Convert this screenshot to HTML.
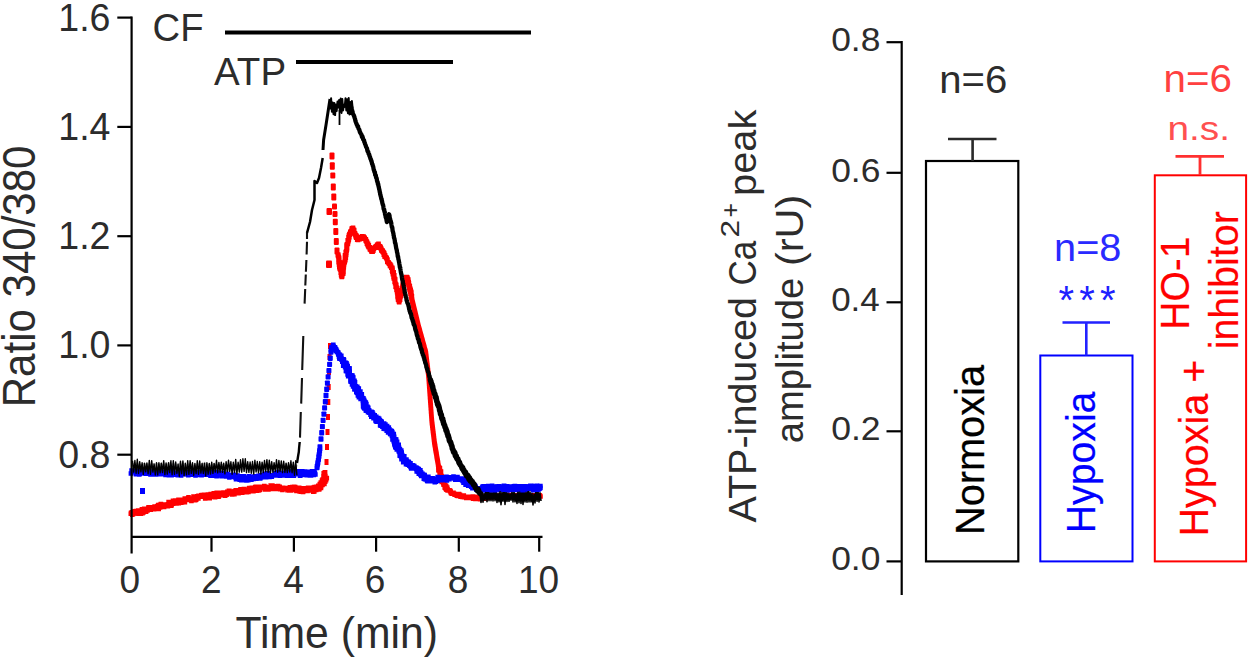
<!DOCTYPE html>
<html><head><meta charset="utf-8"><title>Figure</title>
<style>
html,body{margin:0;padding:0;background:#fff;}
body{width:1250px;height:660px;overflow:hidden;font-family:"Liberation Sans",sans-serif;}
svg{display:block;font-family:"Liberation Sans",sans-serif;}
</style></head><body>
<svg width="1250" height="660" viewBox="0 0 1250 660">
<rect width="1250" height="660" fill="#fff"/>
<path d="M128.5 511.5h4.6v4.6h-4.6zM128.8 510.6h4.6v4.6h-4.6zM130.0 512.5h4.6v4.6h-4.6zM129.8 509.9h4.6v4.6h-4.6zM131.0 511.7h4.6v4.6h-4.6zM131.3 510.8h4.6v4.6h-4.6zM131.5 509.3h4.6v4.6h-4.6zM132.6 511.1h4.6v4.6h-4.6zM132.6 508.9h4.6v4.6h-4.6zM133.6 510.4h4.6v4.6h-4.6zM133.7 508.7h4.6v4.6h-4.6zM134.3 508.7h4.6v4.6h-4.6zM135.2 509.9h4.6v4.6h-4.6zM136.2 511.5h4.6v4.6h-4.6zM135.9 508.3h4.6v4.6h-4.6zM136.6 508.6h4.6v4.6h-4.6zM137.6 510.2h4.6v4.6h-4.6zM138.5 511.4h4.6v4.6h-4.6zM138.6 509.6h4.6v4.6h-4.6zM139.0 508.7h4.6v4.6h-4.6zM140.2 511.0h4.6v4.6h-4.6zM139.6 506.9h4.6v4.6h-4.6zM141.1 510.2h4.6v4.6h-4.6zM141.0 507.7h4.6v4.6h-4.6zM141.3 506.9h4.6v4.6h-4.6zM141.9 506.6h4.6v4.6h-4.6zM142.6 507.3h4.6v4.6h-4.6zM143.8 509.3h4.6v4.6h-4.6zM143.5 506.4h4.6v4.6h-4.6zM144.6 508.0h4.6v4.6h-4.6zM145.2 508.1h4.6v4.6h-4.6zM145.4 506.8h4.6v4.6h-4.6zM146.1 507.4h4.6v4.6h-4.6zM146.1 505.2h4.6v4.6h-4.6zM146.6 505.0h4.6v4.6h-4.6zM147.4 505.4h4.6v4.6h-4.6zM148.4 507.3h4.6v4.6h-4.6zM148.7 506.1h4.6v4.6h-4.6zM149.1 505.5h4.6v4.6h-4.6zM150.0 506.5h4.6v4.6h-4.6zM150.4 505.8h4.6v4.6h-4.6zM150.8 505.0h4.6v4.6h-4.6zM151.8 507.0h4.6v4.6h-4.6zM152.3 506.4h4.6v4.6h-4.6zM152.3 504.3h4.6v4.6h-4.6zM153.2 505.6h4.6v4.6h-4.6zM153.7 505.2h4.6v4.6h-4.6zM154.7 506.6h4.6v4.6h-4.6zM155.0 505.8h4.6v4.6h-4.6zM155.1 503.8h4.6v4.6h-4.6zM156.4 506.6h4.6v4.6h-4.6zM156.0 502.8h4.6v4.6h-4.6zM156.9 503.9h4.6v4.6h-4.6zM157.8 505.2h4.6v4.6h-4.6zM157.7 502.5h4.6v4.6h-4.6zM158.6 503.8h4.6v4.6h-4.6zM158.6 501.7h4.6v4.6h-4.6zM159.9 504.3h4.6v4.6h-4.6zM160.5 504.6h4.6v4.6h-4.6zM160.9 503.6h4.6v4.6h-4.6zM161.8 504.7h4.6v4.6h-4.6zM161.7 502.2h4.6v4.6h-4.6zM162.6 503.7h4.6v4.6h-4.6zM163.1 503.1h4.6v4.6h-4.6zM163.6 502.9h4.6v4.6h-4.6zM164.0 502.2h4.6v4.6h-4.6zM165.0 503.7h4.6v4.6h-4.6zM165.6 504.0h4.6v4.6h-4.6zM165.7 501.9h4.6v4.6h-4.6zM166.4 502.6h4.6v4.6h-4.6zM166.3 499.8h4.6v4.6h-4.6zM167.6 502.4h4.6v4.6h-4.6zM168.1 502.1h4.6v4.6h-4.6zM169.0 503.4h4.6v4.6h-4.6zM169.3 502.5h4.6v4.6h-4.6zM169.3 500.1h4.6v4.6h-4.6zM170.0 500.4h4.6v4.6h-4.6zM170.8 501.5h4.6v4.6h-4.6zM170.7 498.6h4.6v4.6h-4.6zM171.7 500.3h4.6v4.6h-4.6zM171.9 498.9h4.6v4.6h-4.6zM172.4 498.6h4.6v4.6h-4.6zM172.9 498.2h4.6v4.6h-4.6zM174.2 501.1h4.6v4.6h-4.6zM174.1 498.2h4.6v4.6h-4.6zM174.8 498.6h4.6v4.6h-4.6zM175.5 499.0h4.6v4.6h-4.6zM176.5 500.9h4.6v4.6h-4.6zM176.2 497.4h4.6v4.6h-4.6zM177.2 498.9h4.6v4.6h-4.6zM177.8 499.2h4.6v4.6h-4.6zM178.7 500.4h4.6v4.6h-4.6zM179.2 500.0h4.6v4.6h-4.6zM179.8 500.1h4.6v4.6h-4.6zM179.7 497.4h4.6v4.6h-4.6zM180.4 497.9h4.6v4.6h-4.6zM180.9 497.5h4.6v4.6h-4.6zM182.0 499.6h4.6v4.6h-4.6zM182.6 499.8h4.6v4.6h-4.6zM182.5 496.2h4.6v4.6h-4.6zM183.0 496.2h4.6v4.6h-4.6zM183.6 496.4h4.6v4.6h-4.6zM184.2 496.3h4.6v4.6h-4.6zM184.9 497.3h4.6v4.6h-4.6zM185.5 497.6h4.6v4.6h-4.6zM185.8 496.1h4.6v4.6h-4.6zM186.2 494.9h4.6v4.6h-4.6zM187.1 496.6h4.6v4.6h-4.6zM187.6 496.3h4.6v4.6h-4.6zM188.3 497.1h4.6v4.6h-4.6zM189.1 498.7h4.6v4.6h-4.6zM189.5 497.5h4.6v4.6h-4.6zM189.9 496.6h4.6v4.6h-4.6zM190.5 497.0h4.6v4.6h-4.6zM191.1 497.1h4.6v4.6h-4.6zM191.2 494.3h4.6v4.6h-4.6zM192.4 497.9h4.6v4.6h-4.6zM192.8 497.3h4.6v4.6h-4.6zM193.5 497.6h4.6v4.6h-4.6zM194.0 497.2h4.6v4.6h-4.6zM194.2 495.4h4.6v4.6h-4.6zM194.8 495.3h4.6v4.6h-4.6zM195.1 493.9h4.6v4.6h-4.6zM196.1 496.1h4.6v4.6h-4.6zM196.2 493.6h4.6v4.6h-4.6zM196.8 493.5h4.6v4.6h-4.6zM197.4 494.0h4.6v4.6h-4.6zM197.9 493.7h4.6v4.6h-4.6zM198.6 494.4h4.6v4.6h-4.6zM199.0 493.1h4.6v4.6h-4.6zM199.5 492.8h4.6v4.6h-4.6zM200.1 493.3h4.6v4.6h-4.6zM200.7 493.0h4.6v4.6h-4.6zM201.4 494.1h4.6v4.6h-4.6zM201.7 492.5h4.6v4.6h-4.6zM202.9 496.1h4.6v4.6h-4.6zM203.2 494.9h4.6v4.6h-4.6zM203.5 492.8h4.6v4.6h-4.6zM204.1 493.1h4.6v4.6h-4.6zM204.7 493.5h4.6v4.6h-4.6zM205.3 493.4h4.6v4.6h-4.6zM205.6 492.3h4.6v4.6h-4.6zM206.7 495.4h4.6v4.6h-4.6zM207.4 495.9h4.6v4.6h-4.6zM207.5 493.5h4.6v4.6h-4.6zM208.1 493.5h4.6v4.6h-4.6zM208.4 491.7h4.6v4.6h-4.6zM208.9 491.7h4.6v4.6h-4.6zM209.7 492.6h4.6v4.6h-4.6zM210.2 492.2h4.6v4.6h-4.6zM211.1 494.6h4.6v4.6h-4.6zM211.2 491.6h4.6v4.6h-4.6zM211.6 490.9h4.6v4.6h-4.6zM212.8 494.8h4.6v4.6h-4.6zM213.1 492.9h4.6v4.6h-4.6zM213.4 491.2h4.6v4.6h-4.6zM214.2 492.8h4.6v4.6h-4.6zM214.4 490.5h4.6v4.6h-4.6zM215.3 492.5h4.6v4.6h-4.6zM216.2 494.4h4.6v4.6h-4.6zM216.6 493.8h4.6v4.6h-4.6zM217.1 493.0h4.6v4.6h-4.6zM217.3 491.0h4.6v4.6h-4.6zM218.0 491.4h4.6v4.6h-4.6zM218.4 490.4h4.6v4.6h-4.6zM219.3 493.0h4.6v4.6h-4.6zM219.7 491.8h4.6v4.6h-4.6zM220.4 492.8h4.6v4.6h-4.6zM220.7 490.8h4.6v4.6h-4.6zM221.2 490.2h4.6v4.6h-4.6zM222.1 492.7h4.6v4.6h-4.6zM222.8 493.4h4.6v4.6h-4.6zM223.2 492.7h4.6v4.6h-4.6zM223.8 492.4h4.6v4.6h-4.6zM224.3 492.4h4.6v4.6h-4.6zM224.8 492.0h4.6v4.6h-4.6zM225.0 489.6h4.6v4.6h-4.6zM225.8 490.8h4.6v4.6h-4.6zM226.2 490.0h4.6v4.6h-4.6zM226.6 488.5h4.6v4.6h-4.6zM227.1 488.4h4.6v4.6h-4.6zM227.8 489.4h4.6v4.6h-4.6zM228.4 489.3h4.6v4.6h-4.6zM229.2 491.1h4.6v4.6h-4.6zM229.9 492.1h4.6v4.6h-4.6zM230.1 489.8h4.6v4.6h-4.6zM231.0 491.9h4.6v4.6h-4.6zM231.6 492.0h4.6v4.6h-4.6zM232.1 491.8h4.6v4.6h-4.6zM232.3 489.1h4.6v4.6h-4.6zM232.8 488.4h4.6v4.6h-4.6zM233.3 488.4h4.6v4.6h-4.6zM233.8 488.1h4.6v4.6h-4.6zM234.4 488.1h4.6v4.6h-4.6zM235.2 489.8h4.6v4.6h-4.6zM236.0 490.9h4.6v4.6h-4.6zM236.5 490.6h4.6v4.6h-4.6zM236.8 488.9h4.6v4.6h-4.6zM237.5 489.6h4.6v4.6h-4.6zM238.1 490.2h4.6v4.6h-4.6zM238.2 487.0h4.6v4.6h-4.6zM239.2 489.4h4.6v4.6h-4.6zM239.9 490.4h4.6v4.6h-4.6zM240.4 489.7h4.6v4.6h-4.6zM240.9 489.5h4.6v4.6h-4.6zM241.3 488.2h4.6v4.6h-4.6zM241.6 486.8h4.6v4.6h-4.6zM242.6 489.4h4.6v4.6h-4.6zM242.9 487.3h4.6v4.6h-4.6zM243.7 489.3h4.6v4.6h-4.6zM244.4 489.9h4.6v4.6h-4.6zM244.6 487.3h4.6v4.6h-4.6zM245.2 487.3h4.6v4.6h-4.6zM246.1 489.6h4.6v4.6h-4.6zM246.5 488.5h4.6v4.6h-4.6zM246.7 486.0h4.6v4.6h-4.6zM247.2 485.7h4.6v4.6h-4.6zM247.8 485.7h4.6v4.6h-4.6zM248.9 488.9h4.6v4.6h-4.6zM249.3 488.4h4.6v4.6h-4.6zM249.5 485.5h4.6v4.6h-4.6zM250.5 488.3h4.6v4.6h-4.6zM251.1 488.9h4.6v4.6h-4.6zM251.5 487.5h4.6v4.6h-4.6zM251.9 486.0h4.6v4.6h-4.6zM252.6 486.8h4.6v4.6h-4.6zM252.9 484.9h4.6v4.6h-4.6zM253.4 484.4h4.6v4.6h-4.6zM254.5 488.5h4.6v4.6h-4.6zM254.9 487.0h4.6v4.6h-4.6zM255.4 486.4h4.6v4.6h-4.6zM256.2 488.1h4.6v4.6h-4.6zM256.5 485.8h4.6v4.6h-4.6zM257.3 487.6h4.6v4.6h-4.6zM257.8 487.4h4.6v4.6h-4.6zM258.0 484.6h4.6v4.6h-4.6zM258.6 484.7h4.6v4.6h-4.6zM259.2 484.8h4.6v4.6h-4.6zM259.8 484.5h4.6v4.6h-4.6zM260.5 486.0h4.6v4.6h-4.6zM260.9 484.5h4.6v4.6h-4.6zM261.6 485.1h4.6v4.6h-4.6zM262.0 483.7h4.6v4.6h-4.6zM263.0 487.1h4.6v4.6h-4.6zM263.3 484.6h4.6v4.6h-4.6zM263.9 485.0h4.6v4.6h-4.6zM264.4 485.6h4.6v4.6h-4.6zM264.9 487.0h4.6v4.6h-4.6zM265.6 484.9h4.6v4.6h-4.6zM266.1 487.1h4.6v4.6h-4.6zM266.7 485.3h4.6v4.6h-4.6zM267.2 485.4h4.6v4.6h-4.6zM267.8 485.4h4.6v4.6h-4.6zM268.4 483.2h4.6v4.6h-4.6zM268.9 485.1h4.6v4.6h-4.6zM269.5 484.0h4.6v4.6h-4.6zM270.1 483.2h4.6v4.6h-4.6zM270.6 486.7h4.6v4.6h-4.6zM271.2 483.9h4.6v4.6h-4.6zM271.8 485.3h4.6v4.6h-4.6zM272.3 486.4h4.6v4.6h-4.6zM272.9 485.7h4.6v4.6h-4.6zM273.5 484.7h4.6v4.6h-4.6zM274.0 485.5h4.6v4.6h-4.6zM274.6 485.7h4.6v4.6h-4.6zM275.1 486.7h4.6v4.6h-4.6zM275.8 483.8h4.6v4.6h-4.6zM276.3 485.8h4.6v4.6h-4.6zM276.9 484.5h4.6v4.6h-4.6zM277.4 484.6h4.6v4.6h-4.6zM277.9 486.8h4.6v4.6h-4.6zM278.5 485.7h4.6v4.6h-4.6zM279.1 486.0h4.6v4.6h-4.6zM279.6 486.9h4.6v4.6h-4.6zM280.1 487.6h4.6v4.6h-4.6zM280.8 485.5h4.6v4.6h-4.6zM281.3 486.3h4.6v4.6h-4.6zM281.9 485.9h4.6v4.6h-4.6zM282.5 485.9h4.6v4.6h-4.6zM283.0 486.7h4.6v4.6h-4.6zM283.6 485.7h4.6v4.6h-4.6zM284.2 486.1h4.6v4.6h-4.6zM284.7 485.9h4.6v4.6h-4.6zM285.2 488.0h4.6v4.6h-4.6zM285.8 486.9h4.6v4.6h-4.6zM286.4 487.7h4.6v4.6h-4.6zM286.9 488.1h4.6v4.6h-4.6zM287.6 485.1h4.6v4.6h-4.6zM288.1 486.4h4.6v4.6h-4.6zM288.5 488.1h4.6v4.6h-4.6zM289.1 487.7h4.6v4.6h-4.6zM290.0 484.7h4.6v4.6h-4.6zM290.6 484.7h4.6v4.6h-4.6zM291.0 486.2h4.6v4.6h-4.6zM291.8 484.6h4.6v4.6h-4.6zM292.3 485.4h4.6v4.6h-4.6zM292.9 484.8h4.6v4.6h-4.6zM293.2 487.4h4.6v4.6h-4.6zM293.7 488.0h4.6v4.6h-4.6zM294.2 488.6h4.6v4.6h-4.6zM295.1 485.4h4.6v4.6h-4.6zM295.5 487.9h4.6v4.6h-4.6zM296.1 487.7h4.6v4.6h-4.6zM296.9 485.5h4.6v4.6h-4.6zM297.1 488.8h4.6v4.6h-4.6zM297.6 489.2h4.6v4.6h-4.6zM298.5 486.0h4.6v4.6h-4.6zM298.8 489.3h4.6v4.6h-4.6zM299.6 486.9h4.6v4.6h-4.6zM300.1 487.4h4.6v4.6h-4.6zM300.7 489.7h4.6v4.6h-4.6zM301.2 489.0h4.6v4.6h-4.6zM301.9 486.0h4.6v4.6h-4.6zM302.4 487.2h4.6v4.6h-4.6zM302.9 487.6h4.6v4.6h-4.6zM303.5 486.9h4.6v4.6h-4.6zM304.1 486.2h4.6v4.6h-4.6zM304.7 486.8h4.6v4.6h-4.6zM305.2 488.6h4.6v4.6h-4.6zM305.8 485.5h4.6v4.6h-4.6zM306.3 487.9h4.6v4.6h-4.6zM306.9 487.4h4.6v4.6h-4.6zM307.5 485.5h4.6v4.6h-4.6zM308.0 486.9h4.6v4.6h-4.6zM308.6 488.2h4.6v4.6h-4.6zM309.1 487.7h4.6v4.6h-4.6zM309.1 485.9h4.6v4.6h-4.6zM310.9 489.5h4.6v4.6h-4.6zM311.2 488.5h4.6v4.6h-4.6zM312.0 489.1h4.6v4.6h-4.6zM311.3 485.3h4.6v4.6h-4.6zM312.1 485.8h4.6v4.6h-4.6zM312.3 484.7h4.6v4.6h-4.6zM313.9 487.6h4.6v4.6h-4.6zM313.7 485.3h4.6v4.6h-4.6zM314.1 484.5h4.6v4.6h-4.6zM315.0 485.6h4.6v4.6h-4.6zM316.9 487.1h4.6v4.6h-4.6zM317.1 486.4h4.6v4.6h-4.6zM315.9 484.1h4.6v4.6h-4.6zM316.0 483.4h4.6v4.6h-4.6zM318.7 485.6h4.6v4.6h-4.6zM318.1 484.1h4.6v4.6h-4.6zM318.9 484.1h4.6v4.6h-4.6zM317.6 481.7h4.6v4.6h-4.6zM317.5 481.7h4.6v4.6h-4.6zM320.2 482.6h4.6v4.6h-4.6zM319.5 481.5h4.6v4.6h-4.6zM318.5 480.2h4.6v4.6h-4.6zM322.1 481.7h4.6v4.6h-4.6zM321.2 480.5h4.6v4.6h-4.6zM322.1 480.4h4.6v4.6h-4.6zM319.7 478.3h4.6v4.6h-4.6zM322.9 479.5h4.6v4.6h-4.6zM320.3 477.2h4.6v4.6h-4.6zM323.8 478.0h4.6v4.6h-4.6zM322.1 477.1h4.6v4.6h-4.6zM321.7 476.4h4.6v4.6h-4.6zM322.8 476.0h4.6v4.6h-4.6zM324.5 475.8h4.6v4.6h-4.6zM321.7 474.7h4.6v4.6h-4.6zM321.2 474.0h4.6v4.6h-4.6zM323.1 473.7h4.6v4.6h-4.6zM321.9 472.9h4.6v4.6h-4.6zM321.5 472.2h4.6v4.6h-4.6zM321.8 471.7h4.6v4.6h-4.6zM321.4 471.0h4.6v4.6h-4.6zM322.2 470.6h4.6v4.6h-4.6zM322.8 470.1h4.6v4.6h-4.6z" fill="#ff0000"/>
<rect x="324.5" y="459.0" width="4" height="6" fill="#ff0000"/>
<rect x="325.0" y="444.0" width="4" height="6" fill="#ff0000"/>
<rect x="325.5" y="429.0" width="4" height="6" fill="#ff0000"/>
<rect x="326.0" y="414.0" width="4" height="6" fill="#ff0000"/>
<rect x="326.3" y="399.0" width="4" height="6" fill="#ff0000"/>
<rect x="326.7" y="384.0" width="4" height="6" fill="#ff0000"/>
<rect x="327.0" y="369.0" width="4" height="6" fill="#ff0000"/>
<rect x="327.5" y="354.0" width="4" height="6" fill="#ff0000"/>
<rect x="328.0" y="343.0" width="4" height="6" fill="#ff0000"/>
<rect x="329.5" y="152.5" width="5" height="7.0" rx="1" fill="#ff0000"/>
<rect x="329.8" y="162.2" width="5" height="7.5" rx="1" fill="#ff0000"/>
<rect x="330.3" y="172.5" width="5" height="6.0" rx="1" fill="#ff0000"/>
<rect x="330.8" y="183.5" width="5" height="7.0" rx="1" fill="#ff0000"/>
<rect x="331.3" y="193.5" width="5" height="7.0" rx="1" fill="#ff0000"/>
<rect x="332.0" y="203.5" width="5" height="6.0" rx="1" fill="#ff0000"/>
<rect x="332.5" y="211.0" width="5" height="6.0" rx="1" fill="#ff0000"/>
<rect x="332.8" y="218.8" width="5" height="6.5" rx="1" fill="#ff0000"/>
<rect x="333.3" y="228.0" width="5" height="7.0" rx="1" fill="#ff0000"/>
<rect x="333.8" y="238.0" width="5" height="7.0" rx="1" fill="#ff0000"/>
<rect x="334.5" y="247.5" width="5" height="7.0" rx="1" fill="#ff0000"/>
<rect x="326.5" y="208" width="5.5" height="7" rx="1" fill="#ff0000"/>
<rect x="326" y="260.5" width="6" height="7.5" rx="1" fill="#ff0000"/>
<path d="M335.9 252.2h4.6v4.6h-4.6zM335.5 252.8h4.6v4.6h-4.6zM336.1 253.3h4.6v4.6h-4.6zM335.9 253.9h4.6v4.6h-4.6zM336.4 254.4h4.6v4.6h-4.6zM336.3 255.0h4.6v4.6h-4.6zM336.8 255.5h4.6v4.6h-4.6zM336.6 256.1h4.6v4.6h-4.6zM336.9 256.6h4.6v4.6h-4.6zM336.2 257.3h4.6v4.6h-4.6zM336.5 257.8h4.6v4.6h-4.6zM337.0 258.3h4.6v4.6h-4.6zM336.7 258.9h4.6v4.6h-4.6zM336.3 259.6h4.6v4.6h-4.6zM337.3 260.0h4.6v4.6h-4.6zM336.6 260.7h4.6v4.6h-4.6zM337.1 261.2h4.6v4.6h-4.6zM337.1 261.8h4.6v4.6h-4.6zM336.8 262.4h4.6v4.6h-4.6zM337.4 262.9h4.6v4.6h-4.6zM337.4 263.5h4.6v4.6h-4.6zM337.2 264.0h4.6v4.6h-4.6zM337.0 264.7h4.6v4.6h-4.6zM337.8 265.1h4.6v4.6h-4.6zM337.3 265.8h4.6v4.6h-4.6zM337.6 266.3h4.6v4.6h-4.6zM337.8 266.9h4.6v4.6h-4.6zM338.2 267.4h4.6v4.6h-4.6zM338.4 267.9h4.6v4.6h-4.6zM338.8 268.4h4.6v4.6h-4.6zM338.9 269.0h4.6v4.6h-4.6zM339.1 269.5h4.6v4.6h-4.6zM338.4 270.3h4.6v4.6h-4.6zM339.1 270.7h4.6v4.6h-4.6zM339.3 271.2h4.6v4.6h-4.6zM339.6 271.8h4.6v4.6h-4.6zM338.8 272.5h4.6v4.6h-4.6zM338.9 273.1h4.6v4.6h-4.6zM339.3 273.6h4.6v4.6h-4.6zM339.8 274.1h4.6v4.6h-4.6zM339.4 274.6h4.6v4.6h-4.6zM339.6 274.1h4.6v4.6h-4.6zM339.9 273.6h4.6v4.6h-4.6zM339.6 273.0h4.6v4.6h-4.6zM340.0 272.5h4.6v4.6h-4.6zM339.9 271.9h4.6v4.6h-4.6zM340.8 271.5h4.6v4.6h-4.6zM341.0 271.0h4.6v4.6h-4.6zM340.6 270.3h4.6v4.6h-4.6zM340.3 269.7h4.6v4.6h-4.6zM341.2 269.3h4.6v4.6h-4.6zM340.6 268.6h4.6v4.6h-4.6zM340.7 268.1h4.6v4.6h-4.6zM340.4 267.4h4.6v4.6h-4.6zM341.0 267.0h4.6v4.6h-4.6zM341.2 266.4h4.6v4.6h-4.6zM341.3 265.9h4.6v4.6h-4.6zM341.0 265.3h4.6v4.6h-4.6zM341.5 264.8h4.6v4.6h-4.6zM341.0 264.1h4.6v4.6h-4.6zM341.4 263.7h4.6v4.6h-4.6zM341.3 263.1h4.6v4.6h-4.6zM341.7 262.6h4.6v4.6h-4.6zM341.4 262.0h4.6v4.6h-4.6zM341.5 261.4h4.6v4.6h-4.6zM341.9 260.9h4.6v4.6h-4.6zM341.9 260.3h4.6v4.6h-4.6zM342.4 259.8h4.6v4.6h-4.6zM342.4 259.3h4.6v4.6h-4.6zM342.7 258.7h4.6v4.6h-4.6zM342.7 258.2h4.6v4.6h-4.6zM342.9 257.6h4.6v4.6h-4.6zM343.1 257.1h4.6v4.6h-4.6zM342.7 256.5h4.6v4.6h-4.6zM342.7 255.9h4.6v4.6h-4.6zM343.5 255.5h4.6v4.6h-4.6zM342.6 254.7h4.6v4.6h-4.6zM343.4 254.3h4.6v4.6h-4.6zM343.4 253.7h4.6v4.6h-4.6zM342.7 253.1h4.6v4.6h-4.6zM343.8 252.6h4.6v4.6h-4.6zM343.9 252.1h4.6v4.6h-4.6zM343.7 251.5h4.6v4.6h-4.6zM343.9 251.0h4.6v4.6h-4.6zM344.1 250.4h4.6v4.6h-4.6zM343.4 249.7h4.6v4.6h-4.6zM343.9 249.3h4.6v4.6h-4.6zM344.0 248.7h4.6v4.6h-4.6zM344.4 248.2h4.6v4.6h-4.6zM344.5 247.6h4.6v4.6h-4.6zM344.6 247.1h4.6v4.6h-4.6zM344.4 246.5h4.6v4.6h-4.6zM344.8 246.0h4.6v4.6h-4.6zM344.7 245.4h4.6v4.6h-4.6zM344.8 244.8h4.6v4.6h-4.6zM344.3 244.2h4.6v4.6h-4.6zM344.2 243.6h4.6v4.6h-4.6zM344.4 243.1h4.6v4.6h-4.6zM344.8 242.6h4.6v4.6h-4.6zM344.6 242.0h4.6v4.6h-4.6zM345.6 241.6h4.6v4.6h-4.6zM345.4 241.0h4.6v4.6h-4.6zM345.6 240.5h4.6v4.6h-4.6zM345.7 239.9h4.6v4.6h-4.6zM345.9 239.4h4.6v4.6h-4.6zM345.8 238.8h4.6v4.6h-4.6zM345.4 238.1h4.6v4.6h-4.6zM346.4 237.8h4.6v4.6h-4.6zM346.5 237.3h4.6v4.6h-4.6zM346.3 236.7h4.6v4.6h-4.6zM346.5 236.1h4.6v4.6h-4.6zM346.8 235.6h4.6v4.6h-4.6zM346.2 234.9h4.6v4.6h-4.6zM347.1 234.6h4.6v4.6h-4.6zM346.7 233.9h4.6v4.6h-4.6zM346.6 233.3h4.6v4.6h-4.6zM346.9 232.8h4.6v4.6h-4.6zM347.6 232.4h4.6v4.6h-4.6zM347.1 231.7h4.6v4.6h-4.6zM347.9 231.3h4.6v4.6h-4.6zM348.2 231.0h4.6v4.6h-4.6zM348.0 230.2h4.6v4.6h-4.6zM348.1 229.6h4.6v4.6h-4.6zM348.5 229.2h4.6v4.6h-4.6zM349.0 228.8h4.6v4.6h-4.6zM349.3 228.4h4.6v4.6h-4.6zM349.4 227.8h4.6v4.6h-4.6zM349.7 227.3h4.6v4.6h-4.6zM349.4 226.5h4.6v4.6h-4.6zM349.8 226.0h4.6v4.6h-4.6zM350.7 225.6h4.6v4.6h-4.6zM350.3 226.3h4.6v4.6h-4.6zM351.0 226.7h4.6v4.6h-4.6zM351.0 227.4h4.6v4.6h-4.6zM351.8 227.7h4.6v4.6h-4.6zM351.9 228.2h4.6v4.6h-4.6zM351.9 228.9h4.6v4.6h-4.6zM351.7 229.6h4.6v4.6h-4.6zM351.9 230.1h4.6v4.6h-4.6zM352.1 230.7h4.6v4.6h-4.6zM352.7 231.1h4.6v4.6h-4.6zM352.7 231.7h4.6v4.6h-4.6zM353.0 232.2h4.6v4.6h-4.6zM353.2 232.7h4.6v4.6h-4.6zM353.9 233.0h4.6v4.6h-4.6zM353.3 233.9h4.6v4.6h-4.6zM354.3 234.0h4.6v4.6h-4.6zM353.7 235.0h4.6v4.6h-4.6zM354.0 235.4h4.6v4.6h-4.6zM355.2 235.4h4.6v4.6h-4.6zM355.0 236.2h4.6v4.6h-4.6zM354.9 236.9h4.6v4.6h-4.6zM354.9 237.5h4.6v4.6h-4.6zM355.7 237.7h4.6v4.6h-4.6zM355.9 237.1h4.6v4.6h-4.6zM356.3 236.6h4.6v4.6h-4.6zM357.4 236.8h4.6v4.6h-4.6zM357.2 235.7h4.6v4.6h-4.6zM357.9 235.6h4.6v4.6h-4.6zM358.0 234.8h4.6v4.6h-4.6zM358.7 234.7h4.6v4.6h-4.6zM359.5 235.1h4.6v4.6h-4.6zM359.9 234.0h4.6v4.6h-4.6zM360.7 234.7h4.6v4.6h-4.6zM361.3 234.2h4.6v4.6h-4.6zM361.2 234.9h4.6v4.6h-4.6zM361.6 235.3h4.6v4.6h-4.6zM362.4 235.6h4.6v4.6h-4.6zM361.9 236.4h4.6v4.6h-4.6zM362.6 236.7h4.6v4.6h-4.6zM363.4 236.9h4.6v4.6h-4.6zM363.7 237.4h4.6v4.6h-4.6zM363.4 238.2h4.6v4.6h-4.6zM363.7 238.7h4.6v4.6h-4.6zM364.1 239.1h4.6v4.6h-4.6zM364.6 239.5h4.6v4.6h-4.6zM364.6 240.1h4.6v4.6h-4.6zM364.9 240.6h4.6v4.6h-4.6zM364.6 241.4h4.6v4.6h-4.6zM365.8 241.4h4.6v4.6h-4.6zM365.3 242.3h4.6v4.6h-4.6zM365.5 242.9h4.6v4.6h-4.6zM366.5 243.0h4.6v4.6h-4.6zM365.9 243.9h4.6v4.6h-4.6zM366.4 244.3h4.6v4.6h-4.6zM366.5 244.9h4.6v4.6h-4.6zM367.4 245.1h4.6v4.6h-4.6zM367.6 245.6h4.6v4.6h-4.6zM367.9 246.1h4.6v4.6h-4.6zM367.5 247.0h4.6v4.6h-4.6zM368.2 247.3h4.6v4.6h-4.6zM368.7 247.6h4.6v4.6h-4.6zM368.9 248.2h4.6v4.6h-4.6zM369.4 248.6h4.6v4.6h-4.6zM369.9 248.9h4.6v4.6h-4.6zM369.3 249.5h4.6v4.6h-4.6zM370.3 249.4h4.6v4.6h-4.6zM370.1 248.6h4.6v4.6h-4.6zM371.0 248.5h4.6v4.6h-4.6zM370.6 247.5h4.6v4.6h-4.6zM371.0 247.1h4.6v4.6h-4.6zM371.5 246.7h4.6v4.6h-4.6zM371.5 246.0h4.6v4.6h-4.6zM372.0 245.6h4.6v4.6h-4.6zM372.9 245.5h4.6v4.6h-4.6zM373.0 245.0h4.6v4.6h-4.6zM373.4 244.5h4.6v4.6h-4.6zM373.7 244.0h4.6v4.6h-4.6zM374.3 243.8h4.6v4.6h-4.6zM374.8 243.4h4.6v4.6h-4.6zM374.9 242.6h4.6v4.6h-4.6zM375.5 242.3h4.6v4.6h-4.6zM376.2 241.4h4.6v4.6h-4.6zM375.8 242.3h4.6v4.6h-4.6zM376.3 242.6h4.6v4.6h-4.6zM376.3 243.3h4.6v4.6h-4.6zM376.7 243.7h4.6v4.6h-4.6zM377.4 243.9h4.6v4.6h-4.6zM377.9 244.2h4.6v4.6h-4.6zM377.3 245.3h4.6v4.6h-4.6zM378.4 245.2h4.6v4.6h-4.6zM378.4 245.9h4.6v4.6h-4.6zM378.8 246.3h4.6v4.6h-4.6zM379.1 246.7h4.6v4.6h-4.6zM379.0 247.5h4.6v4.6h-4.6zM379.0 248.1h4.6v4.6h-4.6zM380.1 248.1h4.6v4.6h-4.6zM380.0 248.9h4.6v4.6h-4.6zM380.6 249.1h4.6v4.6h-4.6zM380.6 249.7h4.6v4.6h-4.6zM381.1 250.1h4.6v4.6h-4.6zM381.6 250.5h4.6v4.6h-4.6zM381.8 251.0h4.6v4.6h-4.6zM382.0 251.5h4.6v4.6h-4.6zM381.5 252.4h4.6v4.6h-4.6zM382.2 252.7h4.6v4.6h-4.6zM382.8 253.0h4.6v4.6h-4.6zM382.3 253.9h4.6v4.6h-4.6zM382.4 254.5h4.6v4.6h-4.6zM383.3 254.7h4.6v4.6h-4.6zM383.8 255.0h4.6v4.6h-4.6zM384.0 255.5h4.6v4.6h-4.6zM384.4 256.0h4.6v4.6h-4.6zM384.4 256.6h4.6v4.6h-4.6zM384.9 257.0h4.6v4.6h-4.6zM385.0 257.6h4.6v4.6h-4.6zM385.2 258.1h4.6v4.6h-4.6zM385.1 258.7h4.6v4.6h-4.6zM385.0 259.4h4.6v4.6h-4.6zM385.5 259.9h4.6v4.6h-4.6zM386.1 260.1h4.6v4.6h-4.6zM386.4 260.6h4.6v4.6h-4.6zM386.6 261.1h4.6v4.6h-4.6zM387.1 261.5h4.6v4.6h-4.6zM387.4 261.9h4.6v4.6h-4.6zM388.0 262.2h4.6v4.6h-4.6zM388.1 262.8h4.6v4.6h-4.6zM387.7 263.7h4.6v4.6h-4.6zM388.8 263.6h4.6v4.6h-4.6zM388.8 264.3h4.6v4.6h-4.6zM389.0 264.9h4.6v4.6h-4.6zM389.0 265.5h4.6v4.6h-4.6zM390.0 265.6h4.6v4.6h-4.6zM390.1 266.2h4.6v4.6h-4.6zM390.2 266.7h4.6v4.6h-4.6zM390.2 267.3h4.6v4.6h-4.6zM390.3 267.9h4.6v4.6h-4.6zM389.8 268.5h4.6v4.6h-4.6zM390.0 269.0h4.6v4.6h-4.6zM390.1 269.6h4.6v4.6h-4.6zM391.3 269.9h4.6v4.6h-4.6zM391.4 270.4h4.6v4.6h-4.6zM390.7 271.2h4.6v4.6h-4.6zM390.6 271.8h4.6v4.6h-4.6zM391.2 272.2h4.6v4.6h-4.6zM391.2 272.8h4.6v4.6h-4.6zM392.0 273.1h4.6v4.6h-4.6zM391.7 273.8h4.6v4.6h-4.6zM391.2 274.5h4.6v4.6h-4.6zM391.4 275.0h4.6v4.6h-4.6zM391.5 275.5h4.6v4.6h-4.6zM391.5 276.1h4.6v4.6h-4.6zM392.5 276.5h4.6v4.6h-4.6zM392.8 277.0h4.6v4.6h-4.6zM392.9 277.5h4.6v4.6h-4.6zM392.5 278.2h4.6v4.6h-4.6zM392.5 278.7h4.6v4.6h-4.6zM392.3 279.4h4.6v4.6h-4.6zM392.7 279.9h4.6v4.6h-4.6zM392.9 280.4h4.6v4.6h-4.6zM392.8 281.0h4.6v4.6h-4.6zM393.3 281.5h4.6v4.6h-4.6zM393.3 282.0h4.6v4.6h-4.6zM394.0 282.5h4.6v4.6h-4.6zM393.3 283.2h4.6v4.6h-4.6zM394.0 283.6h4.6v4.6h-4.6zM393.3 284.4h4.6v4.6h-4.6zM393.8 284.8h4.6v4.6h-4.6zM394.3 285.3h4.6v4.6h-4.6zM394.6 285.8h4.6v4.6h-4.6zM394.5 286.4h4.6v4.6h-4.6zM394.2 287.1h4.6v4.6h-4.6zM394.2 287.6h4.6v4.6h-4.6zM395.0 288.1h4.6v4.6h-4.6zM395.2 288.6h4.6v4.6h-4.6zM394.8 289.3h4.6v4.6h-4.6zM394.8 289.8h4.6v4.6h-4.6zM395.2 290.3h4.6v4.6h-4.6zM395.5 290.9h4.6v4.6h-4.6zM395.1 291.5h4.6v4.6h-4.6zM395.9 291.9h4.6v4.6h-4.6zM395.7 292.5h4.6v4.6h-4.6zM395.6 293.1h4.6v4.6h-4.6zM395.2 293.8h4.6v4.6h-4.6zM395.6 294.3h4.6v4.6h-4.6zM395.4 294.9h4.6v4.6h-4.6zM396.0 295.3h4.6v4.6h-4.6zM396.4 295.8h4.6v4.6h-4.6zM396.5 296.4h4.6v4.6h-4.6zM395.7 297.1h4.6v4.6h-4.6zM396.1 297.6h4.6v4.6h-4.6zM396.7 298.0h4.6v4.6h-4.6zM397.1 298.5h4.6v4.6h-4.6zM396.6 299.2h4.6v4.6h-4.6zM396.9 299.8h4.6v4.6h-4.6zM396.7 299.1h4.6v4.6h-4.6zM396.7 298.5h4.6v4.6h-4.6zM397.3 298.0h4.6v4.6h-4.6zM397.8 297.5h4.6v4.6h-4.6zM397.1 296.8h4.6v4.6h-4.6zM397.0 296.1h4.6v4.6h-4.6zM397.5 295.7h4.6v4.6h-4.6zM397.8 295.1h4.6v4.6h-4.6zM398.2 294.6h4.6v4.6h-4.6zM397.8 293.9h4.6v4.6h-4.6zM398.6 293.5h4.6v4.6h-4.6zM398.7 292.9h4.6v4.6h-4.6zM398.6 292.3h4.6v4.6h-4.6zM398.4 291.6h4.6v4.6h-4.6zM399.4 291.3h4.6v4.6h-4.6zM398.7 290.6h4.6v4.6h-4.6zM399.4 290.2h4.6v4.6h-4.6zM398.9 289.5h4.6v4.6h-4.6zM399.0 288.9h4.6v4.6h-4.6zM399.8 288.5h4.6v4.6h-4.6zM399.3 287.9h4.6v4.6h-4.6zM400.2 287.5h4.6v4.6h-4.6zM399.8 286.8h4.6v4.6h-4.6zM399.6 286.2h4.6v4.6h-4.6zM399.8 285.7h4.6v4.6h-4.6zM400.1 285.2h4.6v4.6h-4.6zM400.5 284.7h4.6v4.6h-4.6zM401.0 284.2h4.6v4.6h-4.6zM400.2 283.5h4.6v4.6h-4.6zM400.6 283.0h4.6v4.6h-4.6zM400.5 282.4h4.6v4.6h-4.6zM401.5 282.1h4.6v4.6h-4.6zM400.7 281.3h4.6v4.6h-4.6zM400.7 280.7h4.6v4.6h-4.6zM400.8 280.2h4.6v4.6h-4.6zM401.3 279.8h4.6v4.6h-4.6zM402.0 279.3h4.6v4.6h-4.6zM402.1 279.0h4.6v4.6h-4.6zM402.3 278.4h4.6v4.6h-4.6zM402.8 278.2h4.6v4.6h-4.6zM403.1 277.7h4.6v4.6h-4.6zM402.9 276.8h4.6v4.6h-4.6zM403.1 276.3h4.6v4.6h-4.6zM404.1 276.3h4.6v4.6h-4.6zM404.3 275.8h4.6v4.6h-4.6zM403.9 274.8h4.6v4.6h-4.6zM404.5 274.7h4.6v4.6h-4.6zM405.0 275.2h4.6v4.6h-4.6zM405.1 275.8h4.6v4.6h-4.6zM405.3 276.4h4.6v4.6h-4.6zM405.7 276.9h4.6v4.6h-4.6zM406.0 277.4h4.6v4.6h-4.6zM405.8 278.1h4.6v4.6h-4.6zM405.9 278.7h4.6v4.6h-4.6zM405.3 279.4h4.6v4.6h-4.6zM406.4 279.7h4.6v4.6h-4.6zM405.6 280.5h4.6v4.6h-4.6zM406.6 280.9h4.6v4.6h-4.6zM406.6 281.5h4.6v4.6h-4.6zM406.2 282.2h4.6v4.6h-4.6zM406.3 282.8h4.6v4.6h-4.6zM406.9 283.2h4.6v4.6h-4.6zM407.5 283.7h4.6v4.6h-4.6zM407.1 284.3h4.6v4.6h-4.6zM407.3 284.8h4.6v4.6h-4.6zM406.8 285.5h4.6v4.6h-4.6zM407.8 285.9h4.6v4.6h-4.6zM407.7 286.5h4.6v4.6h-4.6zM407.2 287.1h4.6v4.6h-4.6zM408.4 287.4h4.6v4.6h-4.6zM408.1 288.1h4.6v4.6h-4.6zM407.7 288.7h4.6v4.6h-4.6zM407.9 289.3h4.6v4.6h-4.6zM408.9 289.6h4.6v4.6h-4.6zM409.0 290.2h4.6v4.6h-4.6zM409.1 290.7h4.6v4.6h-4.6zM408.2 291.5h4.6v4.6h-4.6zM409.1 291.8h4.6v4.6h-4.6zM408.7 292.5h4.6v4.6h-4.6zM408.6 293.1h4.6v4.6h-4.6zM409.4 293.5h4.6v4.6h-4.6zM409.6 294.0h4.6v4.6h-4.6zM408.9 294.7h4.6v4.6h-4.6zM409.4 295.2h4.6v4.6h-4.6z" fill="#ff0000"/>
<path d="M409.2 295.7h4.6v4.6h-4.6zM409.3 296.2h4.6v4.6h-4.6zM409.5 296.8h4.6v4.6h-4.6zM409.6 297.3h4.6v4.6h-4.6zM409.7 297.9h4.6v4.6h-4.6zM409.9 298.4h4.6v4.6h-4.6zM410.0 298.9h4.6v4.6h-4.6zM410.1 299.5h4.6v4.6h-4.6zM410.2 300.0h4.6v4.6h-4.6zM410.4 300.5h4.6v4.6h-4.6zM410.5 301.1h4.6v4.6h-4.6zM410.6 301.6h4.6v4.6h-4.6zM410.8 302.2h4.6v4.6h-4.6zM410.9 302.7h4.6v4.6h-4.6zM411.0 303.2h4.6v4.6h-4.6zM411.2 303.8h4.6v4.6h-4.6zM411.3 304.3h4.6v4.6h-4.6zM411.4 304.9h4.6v4.6h-4.6zM411.6 305.4h4.6v4.6h-4.6zM411.7 305.9h4.6v4.6h-4.6zM411.8 306.5h4.6v4.6h-4.6zM411.9 307.0h4.6v4.6h-4.6zM412.1 307.5h4.6v4.6h-4.6zM412.2 308.1h4.6v4.6h-4.6zM412.3 308.6h4.6v4.6h-4.6zM412.5 309.2h4.6v4.6h-4.6zM412.6 309.7h4.6v4.6h-4.6zM412.7 310.2h4.6v4.6h-4.6zM412.9 310.8h4.6v4.6h-4.6zM413.0 311.3h4.6v4.6h-4.6zM413.1 311.9h4.6v4.6h-4.6zM413.3 312.4h4.6v4.6h-4.6zM413.4 312.9h4.6v4.6h-4.6zM413.5 313.5h4.6v4.6h-4.6zM413.6 314.0h4.6v4.6h-4.6zM413.8 314.5h4.6v4.6h-4.6zM413.9 315.1h4.6v4.6h-4.6zM414.0 315.6h4.6v4.6h-4.6zM414.2 316.2h4.6v4.6h-4.6zM414.3 316.7h4.6v4.6h-4.6zM414.4 317.2h4.6v4.6h-4.6zM414.6 317.8h4.6v4.6h-4.6zM414.7 318.3h4.6v4.6h-4.6zM414.8 318.9h4.6v4.6h-4.6zM415.0 319.4h4.6v4.6h-4.6zM415.1 319.9h4.6v4.6h-4.6zM415.2 320.5h4.6v4.6h-4.6zM415.3 321.0h4.6v4.6h-4.6zM415.5 321.5h4.6v4.6h-4.6zM415.6 322.1h4.6v4.6h-4.6zM415.7 322.6h4.6v4.6h-4.6zM415.9 323.2h4.6v4.6h-4.6zM416.0 323.7h4.6v4.6h-4.6zM416.1 324.2h4.6v4.6h-4.6zM416.3 324.8h4.6v4.6h-4.6zM416.4 325.3h4.6v4.6h-4.6zM416.6 325.9h4.6v4.6h-4.6zM416.8 326.4h4.6v4.6h-4.6zM416.9 326.9h4.6v4.6h-4.6zM417.1 327.5h4.6v4.6h-4.6zM417.2 328.0h4.6v4.6h-4.6zM417.4 328.6h4.6v4.6h-4.6zM417.5 329.1h4.6v4.6h-4.6zM417.6 329.6h4.6v4.6h-4.6zM417.8 330.2h4.6v4.6h-4.6zM417.9 330.7h4.6v4.6h-4.6zM418.1 331.3h4.6v4.6h-4.6zM418.2 331.8h4.6v4.6h-4.6zM418.4 332.3h4.6v4.6h-4.6zM418.6 332.9h4.6v4.6h-4.6zM418.7 333.4h4.6v4.6h-4.6zM418.9 334.0h4.6v4.6h-4.6zM419.0 334.5h4.6v4.6h-4.6zM419.1 335.0h4.6v4.6h-4.6zM419.3 335.6h4.6v4.6h-4.6zM419.4 336.1h4.6v4.6h-4.6zM419.6 336.7h4.6v4.6h-4.6zM419.8 337.2h4.6v4.6h-4.6zM419.9 337.7h4.6v4.6h-4.6zM420.1 338.3h4.6v4.6h-4.6zM420.2 338.8h4.6v4.6h-4.6zM420.4 339.4h4.6v4.6h-4.6zM420.5 339.9h4.6v4.6h-4.6zM420.6 340.4h4.6v4.6h-4.6zM420.8 341.0h4.6v4.6h-4.6zM420.9 341.5h4.6v4.6h-4.6zM421.1 342.1h4.6v4.6h-4.6zM421.2 342.6h4.6v4.6h-4.6zM421.4 343.1h4.6v4.6h-4.6zM421.6 343.7h4.6v4.6h-4.6zM421.7 344.2h4.6v4.6h-4.6zM421.9 344.8h4.6v4.6h-4.6zM422.0 345.3h4.6v4.6h-4.6zM422.1 345.8h4.6v4.6h-4.6zM422.3 346.4h4.6v4.6h-4.6zM422.4 346.9h4.6v4.6h-4.6zM422.6 347.5h4.6v4.6h-4.6zM422.8 348.0h4.6v4.6h-4.6zM422.9 348.5h4.6v4.6h-4.6zM423.1 349.1h4.6v4.6h-4.6zM423.2 349.6h4.6v4.6h-4.6zM423.4 350.2h4.6v4.6h-4.6zM423.5 350.7h4.6v4.6h-4.6zM423.6 351.2h4.6v4.6h-4.6zM423.6 351.8h4.6v4.6h-4.6zM423.7 352.3h4.6v4.6h-4.6zM423.8 352.9h4.6v4.6h-4.6zM423.8 353.4h4.6v4.6h-4.6zM423.9 354.0h4.6v4.6h-4.6zM424.0 354.6h4.6v4.6h-4.6zM424.0 355.1h4.6v4.6h-4.6zM424.1 355.6h4.6v4.6h-4.6zM424.2 356.2h4.6v4.6h-4.6zM424.2 356.8h4.6v4.6h-4.6zM424.3 357.3h4.6v4.6h-4.6zM424.4 357.8h4.6v4.6h-4.6zM424.4 358.4h4.6v4.6h-4.6zM424.5 358.9h4.6v4.6h-4.6zM424.6 359.5h4.6v4.6h-4.6zM424.6 360.1h4.6v4.6h-4.6zM424.7 360.6h4.6v4.6h-4.6zM424.8 361.1h4.6v4.6h-4.6zM424.8 361.7h4.6v4.6h-4.6zM424.9 362.2h4.6v4.6h-4.6zM425.0 362.8h4.6v4.6h-4.6zM425.1 363.3h4.6v4.6h-4.6zM425.1 363.9h4.6v4.6h-4.6zM425.2 364.4h4.6v4.6h-4.6zM425.3 365.0h4.6v4.6h-4.6zM425.3 365.6h4.6v4.6h-4.6zM425.4 366.1h4.6v4.6h-4.6zM425.5 366.6h4.6v4.6h-4.6zM425.5 367.2h4.6v4.6h-4.6zM425.6 367.8h4.6v4.6h-4.6zM425.7 368.3h4.6v4.6h-4.6zM425.7 368.8h4.6v4.6h-4.6zM425.8 369.4h4.6v4.6h-4.6zM425.9 369.9h4.6v4.6h-4.6zM425.9 370.5h4.6v4.6h-4.6zM426.0 371.1h4.6v4.6h-4.6zM426.1 371.6h4.6v4.6h-4.6zM426.1 372.1h4.6v4.6h-4.6zM426.2 372.7h4.6v4.6h-4.6zM426.2 373.3h4.6v4.6h-4.6zM426.3 373.8h4.6v4.6h-4.6zM426.3 374.4h4.6v4.6h-4.6zM426.4 374.9h4.6v4.6h-4.6zM426.4 375.5h4.6v4.6h-4.6zM426.4 376.0h4.6v4.6h-4.6zM426.5 376.6h4.6v4.6h-4.6zM426.5 377.1h4.6v4.6h-4.6zM426.6 377.7h4.6v4.6h-4.6zM426.6 378.2h4.6v4.6h-4.6zM426.6 378.8h4.6v4.6h-4.6zM426.7 379.3h4.6v4.6h-4.6zM426.7 379.9h4.6v4.6h-4.6zM426.8 380.4h4.6v4.6h-4.6zM426.8 381.0h4.6v4.6h-4.6zM426.8 381.5h4.6v4.6h-4.6zM426.9 382.1h4.6v4.6h-4.6zM426.9 382.6h4.6v4.6h-4.6zM426.9 383.2h4.6v4.6h-4.6zM427.0 383.8h4.6v4.6h-4.6zM427.0 384.3h4.6v4.6h-4.6zM427.1 384.9h4.6v4.6h-4.6zM427.1 385.4h4.6v4.6h-4.6zM427.1 386.0h4.6v4.6h-4.6zM427.2 386.5h4.6v4.6h-4.6zM427.2 387.1h4.6v4.6h-4.6zM427.3 387.6h4.6v4.6h-4.6zM427.3 388.2h4.6v4.6h-4.6zM427.3 388.7h4.6v4.6h-4.6zM427.4 389.3h4.6v4.6h-4.6zM427.4 389.8h4.6v4.6h-4.6zM427.5 390.4h4.6v4.6h-4.6zM427.5 390.9h4.6v4.6h-4.6zM427.5 391.5h4.6v4.6h-4.6zM427.6 392.0h4.6v4.6h-4.6zM427.6 392.6h4.6v4.6h-4.6zM427.7 393.1h4.6v4.6h-4.6zM427.7 393.7h4.6v4.6h-4.6zM427.7 394.3h4.6v4.6h-4.6zM427.8 394.8h4.6v4.6h-4.6zM427.8 395.4h4.6v4.6h-4.6zM427.9 395.9h4.6v4.6h-4.6zM427.9 396.5h4.6v4.6h-4.6zM427.9 397.0h4.6v4.6h-4.6zM428.0 397.6h4.6v4.6h-4.6zM428.0 398.1h4.6v4.6h-4.6zM428.1 398.7h4.6v4.6h-4.6zM428.1 399.3h4.6v4.6h-4.6zM428.1 399.8h4.6v4.6h-4.6zM428.2 400.4h4.6v4.6h-4.6zM428.2 400.9h4.6v4.6h-4.6zM428.3 401.5h4.6v4.6h-4.6zM428.3 402.0h4.6v4.6h-4.6zM428.3 402.6h4.6v4.6h-4.6zM428.4 403.1h4.6v4.6h-4.6zM428.4 403.7h4.6v4.6h-4.6zM428.5 404.3h4.6v4.6h-4.6zM428.5 404.8h4.6v4.6h-4.6zM428.5 405.4h4.6v4.6h-4.6zM428.6 405.9h4.6v4.6h-4.6zM428.6 406.5h4.6v4.6h-4.6zM428.7 407.0h4.6v4.6h-4.6zM428.7 407.6h4.6v4.6h-4.6zM428.7 408.1h4.6v4.6h-4.6zM428.8 408.7h4.6v4.6h-4.6zM428.8 409.3h4.6v4.6h-4.6zM428.9 409.8h4.6v4.6h-4.6zM428.9 410.4h4.6v4.6h-4.6zM428.9 410.9h4.6v4.6h-4.6zM429.0 411.5h4.6v4.6h-4.6zM429.0 412.0h4.6v4.6h-4.6zM429.1 412.6h4.6v4.6h-4.6zM429.1 413.1h4.6v4.6h-4.6zM429.1 413.7h4.6v4.6h-4.6zM429.2 414.3h4.6v4.6h-4.6zM429.2 414.8h4.6v4.6h-4.6zM429.3 415.4h4.6v4.6h-4.6zM429.3 415.9h4.6v4.6h-4.6zM429.3 416.5h4.6v4.6h-4.6zM429.4 417.0h4.6v4.6h-4.6zM429.4 417.6h4.6v4.6h-4.6zM429.5 418.1h4.6v4.6h-4.6zM429.5 418.7h4.6v4.6h-4.6zM429.6 419.2h4.6v4.6h-4.6zM429.6 419.8h4.6v4.6h-4.6zM429.7 420.3h4.6v4.6h-4.6zM429.8 420.9h4.6v4.6h-4.6zM429.8 421.4h4.6v4.6h-4.6zM429.9 422.0h4.6v4.6h-4.6zM430.0 422.6h4.6v4.6h-4.6zM430.0 423.1h4.6v4.6h-4.6zM430.1 423.6h4.6v4.6h-4.6zM430.2 424.2h4.6v4.6h-4.6zM430.2 424.8h4.6v4.6h-4.6zM430.3 425.3h4.6v4.6h-4.6zM430.4 425.8h4.6v4.6h-4.6zM430.4 426.4h4.6v4.6h-4.6zM430.5 426.9h4.6v4.6h-4.6zM430.6 427.5h4.6v4.6h-4.6zM430.6 428.1h4.6v4.6h-4.6zM430.7 428.6h4.6v4.6h-4.6zM430.8 429.1h4.6v4.6h-4.6zM430.8 429.7h4.6v4.6h-4.6zM430.9 430.2h4.6v4.6h-4.6zM431.0 430.8h4.6v4.6h-4.6zM431.1 431.3h4.6v4.6h-4.6zM431.1 431.9h4.6v4.6h-4.6zM431.2 432.4h4.6v4.6h-4.6zM431.3 433.0h4.6v4.6h-4.6zM431.3 433.6h4.6v4.6h-4.6zM431.4 434.1h4.6v4.6h-4.6zM431.5 434.6h4.6v4.6h-4.6zM431.5 435.2h4.6v4.6h-4.6zM431.6 435.8h4.6v4.6h-4.6zM431.7 436.3h4.6v4.6h-4.6zM431.7 436.8h4.6v4.6h-4.6zM431.8 437.4h4.6v4.6h-4.6zM431.9 437.9h4.6v4.6h-4.6zM431.9 438.5h4.6v4.6h-4.6zM432.0 439.1h4.6v4.6h-4.6zM432.1 439.6h4.6v4.6h-4.6zM432.1 440.1h4.6v4.6h-4.6zM432.2 440.7h4.6v4.6h-4.6zM432.3 441.2h4.6v4.6h-4.6zM432.4 441.8h4.6v4.6h-4.6zM432.5 442.3h4.6v4.6h-4.6zM432.6 442.9h4.6v4.6h-4.6zM432.7 443.4h4.6v4.6h-4.6zM432.8 444.0h4.6v4.6h-4.6zM432.9 444.5h4.6v4.6h-4.6zM432.9 445.0h4.6v4.6h-4.6zM433.0 445.6h4.6v4.6h-4.6zM433.1 446.1h4.6v4.6h-4.6zM433.2 446.7h4.6v4.6h-4.6zM433.3 447.2h4.6v4.6h-4.6zM433.4 447.8h4.6v4.6h-4.6zM433.5 448.3h4.6v4.6h-4.6zM433.6 448.9h4.6v4.6h-4.6zM433.7 449.4h4.6v4.6h-4.6zM433.8 449.9h4.6v4.6h-4.6zM433.9 450.5h4.6v4.6h-4.6zM434.0 451.0h4.6v4.6h-4.6zM434.1 451.6h4.6v4.6h-4.6zM434.2 452.1h4.6v4.6h-4.6zM434.3 452.7h4.6v4.6h-4.6zM434.3 453.2h4.6v4.6h-4.6zM434.4 453.7h4.6v4.6h-4.6zM434.5 454.3h4.6v4.6h-4.6zM434.6 454.8h4.6v4.6h-4.6zM434.7 455.4h4.6v4.6h-4.6zM434.8 455.9h4.6v4.6h-4.6zM434.9 456.5h4.6v4.6h-4.6zM435.0 457.0h4.6v4.6h-4.6zM435.1 457.5h4.6v4.6h-4.6zM435.2 458.1h4.6v4.6h-4.6zM435.3 458.6h4.6v4.6h-4.6zM435.4 459.2h4.6v4.6h-4.6zM435.5 459.7h4.6v4.6h-4.6zM435.6 460.3h4.6v4.6h-4.6zM435.7 460.8h4.6v4.6h-4.6zM435.8 461.4h4.6v4.6h-4.6zM435.8 461.9h4.6v4.6h-4.6zM435.9 462.4h4.6v4.6h-4.6zM436.0 463.0h4.6v4.6h-4.6zM436.1 463.5h4.6v4.6h-4.6zM436.2 464.1h4.6v4.6h-4.6zM436.3 464.6h4.6v4.6h-4.6zM436.4 465.2h4.6v4.6h-4.6z" fill="#ff0000"/>
<path d="M437.3 465.5h4.6v4.6h-4.6zM437.6 466.0h4.6v4.6h-4.6zM436.5 466.9h4.6v4.6h-4.6zM436.1 467.6h4.6v4.6h-4.6zM436.4 468.1h4.6v4.6h-4.6zM437.5 468.4h4.6v4.6h-4.6zM437.9 468.8h4.6v4.6h-4.6zM438.7 469.2h4.6v4.6h-4.6zM437.3 470.2h4.6v4.6h-4.6zM437.7 470.6h4.6v4.6h-4.6zM438.3 471.1h4.6v4.6h-4.6zM437.8 471.8h4.6v4.6h-4.6zM438.4 472.2h4.6v4.6h-4.6zM437.4 473.1h4.6v4.6h-4.6zM438.0 473.5h4.6v4.6h-4.6zM439.3 473.7h4.6v4.6h-4.6zM437.9 474.7h4.6v4.6h-4.6zM440.0 474.7h4.6v4.6h-4.6zM439.0 475.5h4.6v4.6h-4.6zM439.5 476.0h4.6v4.6h-4.6zM440.0 476.4h4.6v4.6h-4.6zM440.6 476.9h4.6v4.6h-4.6zM439.1 478.0h4.6v4.6h-4.6zM441.0 477.7h4.6v4.6h-4.6zM440.1 478.8h4.6v4.6h-4.6zM439.5 479.7h4.6v4.6h-4.6zM441.5 479.3h4.6v4.6h-4.6zM441.6 479.9h4.6v4.6h-4.6zM441.0 480.8h4.6v4.6h-4.6zM441.4 481.2h4.6v4.6h-4.6zM441.4 481.9h4.6v4.6h-4.6zM441.3 482.5h4.6v4.6h-4.6zM442.9 482.4h4.6v4.6h-4.6zM442.9 483.0h4.6v4.6h-4.6zM443.1 483.5h4.6v4.6h-4.6zM443.9 483.7h4.6v4.6h-4.6zM442.4 485.1h4.6v4.6h-4.6zM442.8 485.5h4.6v4.6h-4.6zM443.3 486.1h4.6v4.6h-4.6zM444.9 485.3h4.6v4.6h-4.6zM443.9 487.1h4.6v4.6h-4.6zM444.5 487.3h4.6v4.6h-4.6zM445.4 487.2h4.6v4.6h-4.6zM445.3 488.1h4.6v4.6h-4.6zM446.2 488.0h4.6v4.6h-4.6zM447.0 488.0h4.6v4.6h-4.6zM447.6 488.2h4.6v4.6h-4.6zM447.8 488.8h4.6v4.6h-4.6zM448.1 488.7h4.6v4.6h-4.6zM448.4 489.6h4.6v4.6h-4.6zM448.6 490.7h4.6v4.6h-4.6zM449.2 490.8h4.6v4.6h-4.6zM449.6 491.4h4.6v4.6h-4.6zM450.2 491.3h4.6v4.6h-4.6zM451.2 490.5h4.6v4.6h-4.6zM451.5 491.4h4.6v4.6h-4.6zM452.1 491.4h4.6v4.6h-4.6zM452.3 492.4h4.6v4.6h-4.6zM453.1 492.0h4.6v4.6h-4.6zM453.8 491.7h4.6v4.6h-4.6zM454.2 492.7h4.6v4.6h-4.6zM454.6 493.5h4.6v4.6h-4.6zM455.5 491.9h4.6v4.6h-4.6zM455.7 493.6h4.6v4.6h-4.6zM456.7 491.7h4.6v4.6h-4.6zM457.1 492.4h4.6v4.6h-4.6zM457.7 492.5h4.6v4.6h-4.6zM458.0 493.8h4.6v4.6h-4.6zM458.4 494.4h4.6v4.6h-4.6zM459.1 494.0h4.6v4.6h-4.6zM459.8 493.2h4.6v4.6h-4.6zM460.1 494.6h4.6v4.6h-4.6zM460.9 493.4h4.6v4.6h-4.6zM461.5 493.3h4.6v4.6h-4.6zM461.7 495.0h4.6v4.6h-4.6zM462.4 494.5h4.6v4.6h-4.6zM462.9 494.8h4.6v4.6h-4.6zM463.5 494.8h4.6v4.6h-4.6zM463.9 495.7h4.6v4.6h-4.6zM464.7 494.6h4.6v4.6h-4.6zM465.2 495.6h4.6v4.6h-4.6zM465.8 495.3h4.6v4.6h-4.6zM466.3 495.7h4.6v4.6h-4.6zM467.0 494.8h4.6v4.6h-4.6zM467.5 495.6h4.6v4.6h-4.6zM468.1 495.3h4.6v4.6h-4.6zM468.7 494.7h4.6v4.6h-4.6zM469.3 494.5h4.6v4.6h-4.6zM469.8 495.6h4.6v4.6h-4.6zM470.5 494.3h4.6v4.6h-4.6zM470.8 496.4h4.6v4.6h-4.6zM471.6 494.6h4.6v4.6h-4.6zM472.2 494.4h4.6v4.6h-4.6zM472.7 494.7h4.6v4.6h-4.6zM473.1 496.7h4.6v4.6h-4.6zM473.8 495.4h4.6v4.6h-4.6zM474.4 495.0h4.6v4.6h-4.6zM475.0 494.8h4.6v4.6h-4.6zM475.6 494.8h4.6v4.6h-4.6zM476.0 496.5h4.6v4.6h-4.6zM476.5 496.4h4.6v4.6h-4.6zM477.1 496.6h4.6v4.6h-4.6zM477.8 496.8h4.6v4.6h-4.6zM478.1 495.1h4.6v4.6h-4.6zM478.9 496.2h4.6v4.6h-4.6zM479.3 495.5h4.6v4.6h-4.6zM480.1 496.5h4.6v4.6h-4.6zM480.6 496.4h4.6v4.6h-4.6zM481.2 496.5h4.6v4.6h-4.6zM481.4 494.4h4.6v4.6h-4.6zM482.3 496.2h4.6v4.6h-4.6zM482.9 496.2h4.6v4.6h-4.6zM483.5 496.1h4.6v4.6h-4.6zM483.6 494.1h4.6v4.6h-4.6zM484.2 494.2h4.6v4.6h-4.6zM484.7 493.8h4.6v4.6h-4.6zM485.3 493.5h4.6v4.6h-4.6zM486.2 495.4h4.6v4.6h-4.6zM486.7 495.2h4.6v4.6h-4.6zM487.2 494.6h4.6v4.6h-4.6zM487.7 495.0h4.6v4.6h-4.6zM488.3 494.5h4.6v4.6h-4.6zM488.8 493.7h4.6v4.6h-4.6zM489.4 493.2h4.6v4.6h-4.6zM489.9 493.2h4.6v4.6h-4.6zM490.5 494.8h4.6v4.6h-4.6zM491.0 493.5h4.6v4.6h-4.6zM491.6 493.7h4.6v4.6h-4.6zM492.1 494.0h4.6v4.6h-4.6zM492.7 493.0h4.6v4.6h-4.6zM493.2 493.6h4.6v4.6h-4.6zM493.8 493.6h4.6v4.6h-4.6zM494.4 494.7h4.6v4.6h-4.6zM494.9 493.8h4.6v4.6h-4.6zM495.5 493.7h4.6v4.6h-4.6zM496.0 495.2h4.6v4.6h-4.6zM496.6 494.1h4.6v4.6h-4.6zM497.1 495.0h4.6v4.6h-4.6zM497.7 494.4h4.6v4.6h-4.6zM498.2 493.0h4.6v4.6h-4.6zM498.8 493.9h4.6v4.6h-4.6zM499.3 493.9h4.6v4.6h-4.6zM499.9 494.7h4.6v4.6h-4.6zM500.4 493.7h4.6v4.6h-4.6zM501.0 494.6h4.6v4.6h-4.6zM501.6 494.2h4.6v4.6h-4.6zM502.1 493.4h4.6v4.6h-4.6zM502.7 494.9h4.6v4.6h-4.6zM503.2 493.1h4.6v4.6h-4.6zM503.8 494.8h4.6v4.6h-4.6zM504.3 493.2h4.6v4.6h-4.6zM504.9 492.8h4.6v4.6h-4.6zM505.4 493.3h4.6v4.6h-4.6zM506.0 494.6h4.6v4.6h-4.6zM506.6 495.2h4.6v4.6h-4.6zM507.1 492.8h4.6v4.6h-4.6zM507.7 494.0h4.6v4.6h-4.6zM508.2 494.0h4.6v4.6h-4.6zM508.8 494.7h4.6v4.6h-4.6zM509.3 493.2h4.6v4.6h-4.6zM509.9 494.0h4.6v4.6h-4.6zM510.4 493.6h4.6v4.6h-4.6zM511.0 494.8h4.6v4.6h-4.6zM511.5 493.4h4.6v4.6h-4.6zM512.1 495.0h4.6v4.6h-4.6zM512.6 493.4h4.6v4.6h-4.6zM513.2 493.3h4.6v4.6h-4.6zM513.8 494.4h4.6v4.6h-4.6zM514.3 493.9h4.6v4.6h-4.6zM514.9 493.0h4.6v4.6h-4.6zM515.4 494.3h4.6v4.6h-4.6zM516.0 492.9h4.6v4.6h-4.6zM516.5 494.6h4.6v4.6h-4.6zM517.1 494.4h4.6v4.6h-4.6zM517.6 494.6h4.6v4.6h-4.6zM518.2 494.2h4.6v4.6h-4.6zM518.7 493.5h4.6v4.6h-4.6zM519.3 493.7h4.6v4.6h-4.6zM519.8 493.6h4.6v4.6h-4.6zM520.4 494.8h4.6v4.6h-4.6zM521.0 492.9h4.6v4.6h-4.6zM521.5 494.8h4.6v4.6h-4.6zM522.1 492.7h4.6v4.6h-4.6zM522.6 493.2h4.6v4.6h-4.6zM523.2 493.3h4.6v4.6h-4.6zM523.7 494.8h4.6v4.6h-4.6zM524.3 493.8h4.6v4.6h-4.6zM524.8 493.5h4.6v4.6h-4.6zM525.4 494.8h4.6v4.6h-4.6zM525.9 493.2h4.6v4.6h-4.6zM526.5 493.7h4.6v4.6h-4.6zM527.1 493.9h4.6v4.6h-4.6zM527.6 494.4h4.6v4.6h-4.6zM528.2 494.4h4.6v4.6h-4.6zM528.7 494.1h4.6v4.6h-4.6zM529.3 493.4h4.6v4.6h-4.6zM529.8 493.4h4.6v4.6h-4.6zM530.4 493.0h4.6v4.6h-4.6zM530.9 494.6h4.6v4.6h-4.6zM531.5 494.2h4.6v4.6h-4.6zM532.1 494.3h4.6v4.6h-4.6zM532.6 493.0h4.6v4.6h-4.6zM533.2 493.6h4.6v4.6h-4.6zM533.7 494.4h4.6v4.6h-4.6zM534.3 493.9h4.6v4.6h-4.6zM534.8 492.8h4.6v4.6h-4.6zM535.4 493.6h4.6v4.6h-4.6zM535.9 494.7h4.6v4.6h-4.6zM536.5 493.1h4.6v4.6h-4.6zM537.0 493.0h4.6v4.6h-4.6zM537.6 493.2h4.6v4.6h-4.6zM538.2 494.2h4.6v4.6h-4.6z" fill="#ff0000"/>
<path d="M128.6 471.2h4.6v4.6h-4.6zM129.3 468.2h4.6v4.6h-4.6zM129.9 468.2h4.6v4.6h-4.6zM130.4 468.6h4.6v4.6h-4.6zM131.0 469.0h4.6v4.6h-4.6zM131.5 469.9h4.6v4.6h-4.6zM132.1 468.3h4.6v4.6h-4.6zM132.6 469.1h4.6v4.6h-4.6zM133.2 468.5h4.6v4.6h-4.6zM133.6 472.0h4.6v4.6h-4.6zM134.2 470.9h4.6v4.6h-4.6zM134.9 468.2h4.6v4.6h-4.6zM135.3 472.0h4.6v4.6h-4.6zM136.0 468.2h4.6v4.6h-4.6zM136.5 469.5h4.6v4.6h-4.6zM137.0 472.1h4.6v4.6h-4.6zM137.6 471.3h4.6v4.6h-4.6zM138.1 471.1h4.6v4.6h-4.6zM138.7 469.8h4.6v4.6h-4.6zM139.3 468.7h4.6v4.6h-4.6zM139.8 470.7h4.6v4.6h-4.6zM140.5 468.4h4.6v4.6h-4.6zM141.0 468.8h4.6v4.6h-4.6zM141.5 469.7h4.6v4.6h-4.6zM142.2 468.1h4.6v4.6h-4.6zM142.7 469.7h4.6v4.6h-4.6zM143.2 471.5h4.6v4.6h-4.6zM143.7 471.1h4.6v4.6h-4.6zM144.3 470.2h4.6v4.6h-4.6zM144.9 470.8h4.6v4.6h-4.6zM145.4 470.1h4.6v4.6h-4.6zM146.0 468.7h4.6v4.6h-4.6zM146.5 470.8h4.6v4.6h-4.6zM147.1 469.9h4.6v4.6h-4.6zM147.6 471.4h4.6v4.6h-4.6zM148.2 472.2h4.6v4.6h-4.6zM148.8 470.1h4.6v4.6h-4.6zM149.3 470.7h4.6v4.6h-4.6zM149.9 471.5h4.6v4.6h-4.6zM150.5 470.1h4.6v4.6h-4.6zM151.0 469.3h4.6v4.6h-4.6zM151.5 471.5h4.6v4.6h-4.6zM152.1 472.2h4.6v4.6h-4.6zM152.6 471.7h4.6v4.6h-4.6zM153.2 471.4h4.6v4.6h-4.6zM153.7 472.1h4.6v4.6h-4.6zM154.3 471.4h4.6v4.6h-4.6zM154.9 471.2h4.6v4.6h-4.6zM155.5 470.4h4.6v4.6h-4.6zM156.1 469.8h4.6v4.6h-4.6zM156.6 471.2h4.6v4.6h-4.6zM157.2 468.9h4.6v4.6h-4.6zM157.7 470.3h4.6v4.6h-4.6zM158.2 471.9h4.6v4.6h-4.6zM158.8 471.7h4.6v4.6h-4.6zM159.4 471.3h4.6v4.6h-4.6zM159.9 469.6h4.6v4.6h-4.6zM160.5 470.4h4.6v4.6h-4.6zM161.0 470.5h4.6v4.6h-4.6zM161.6 471.3h4.6v4.6h-4.6zM162.1 470.4h4.6v4.6h-4.6zM162.7 471.5h4.6v4.6h-4.6zM163.2 472.7h4.6v4.6h-4.6zM163.8 469.4h4.6v4.6h-4.6zM164.4 471.5h4.6v4.6h-4.6zM164.9 472.0h4.6v4.6h-4.6zM165.5 470.3h4.6v4.6h-4.6zM166.0 470.8h4.6v4.6h-4.6zM166.6 472.9h4.6v4.6h-4.6zM167.2 468.8h4.6v4.6h-4.6zM167.7 471.0h4.6v4.6h-4.6zM168.3 469.3h4.6v4.6h-4.6zM168.8 472.1h4.6v4.6h-4.6zM169.3 472.8h4.6v4.6h-4.6zM169.9 470.9h4.6v4.6h-4.6zM170.5 469.1h4.6v4.6h-4.6zM171.0 471.2h4.6v4.6h-4.6zM171.6 471.1h4.6v4.6h-4.6zM172.1 471.8h4.6v4.6h-4.6zM172.7 470.9h4.6v4.6h-4.6zM173.2 471.5h4.6v4.6h-4.6zM173.8 472.3h4.6v4.6h-4.6zM174.4 471.0h4.6v4.6h-4.6zM174.9 470.5h4.6v4.6h-4.6zM175.5 472.9h4.6v4.6h-4.6zM176.0 469.7h4.6v4.6h-4.6zM176.6 471.7h4.6v4.6h-4.6zM177.2 470.5h4.6v4.6h-4.6zM177.7 472.1h4.6v4.6h-4.6zM178.3 469.3h4.6v4.6h-4.6zM178.8 473.1h4.6v4.6h-4.6zM179.4 470.3h4.6v4.6h-4.6zM179.9 469.0h4.6v4.6h-4.6zM180.5 470.0h4.6v4.6h-4.6zM181.0 470.6h4.6v4.6h-4.6zM181.6 468.9h4.6v4.6h-4.6zM182.1 470.6h4.6v4.6h-4.6zM182.7 470.7h4.6v4.6h-4.6zM183.2 471.9h4.6v4.6h-4.6zM183.8 470.4h4.6v4.6h-4.6zM184.4 470.0h4.6v4.6h-4.6zM184.9 469.8h4.6v4.6h-4.6zM185.5 472.1h4.6v4.6h-4.6zM186.0 473.0h4.6v4.6h-4.6zM186.6 471.2h4.6v4.6h-4.6zM187.2 469.8h4.6v4.6h-4.6zM187.7 472.4h4.6v4.6h-4.6zM188.3 470.6h4.6v4.6h-4.6zM188.8 469.8h4.6v4.6h-4.6zM189.4 469.5h4.6v4.6h-4.6zM189.9 472.3h4.6v4.6h-4.6zM190.5 472.5h4.6v4.6h-4.6zM191.0 471.7h4.6v4.6h-4.6zM191.6 471.0h4.6v4.6h-4.6zM192.1 471.4h4.6v4.6h-4.6zM192.7 469.9h4.6v4.6h-4.6zM193.2 473.2h4.6v4.6h-4.6zM193.8 470.5h4.6v4.6h-4.6zM194.4 471.8h4.6v4.6h-4.6zM194.9 472.6h4.6v4.6h-4.6zM195.5 472.6h4.6v4.6h-4.6zM196.0 471.0h4.6v4.6h-4.6zM196.6 470.3h4.6v4.6h-4.6zM197.1 471.4h4.6v4.6h-4.6zM197.8 469.6h4.6v4.6h-4.6zM198.2 472.7h4.6v4.6h-4.6zM198.8 470.6h4.6v4.6h-4.6zM199.3 472.8h4.6v4.6h-4.6zM200.0 470.3h4.6v4.6h-4.6zM200.5 470.8h4.6v4.6h-4.6zM201.1 470.2h4.6v4.6h-4.6zM201.6 471.0h4.6v4.6h-4.6zM202.2 470.0h4.6v4.6h-4.6zM202.8 469.2h4.6v4.6h-4.6zM203.2 472.4h4.6v4.6h-4.6zM203.8 470.5h4.6v4.6h-4.6zM204.4 470.3h4.6v4.6h-4.6zM205.0 470.6h4.6v4.6h-4.6zM205.5 471.4h4.6v4.6h-4.6zM206.0 471.2h4.6v4.6h-4.6zM206.6 472.2h4.6v4.6h-4.6zM207.1 472.3h4.6v4.6h-4.6zM207.7 471.0h4.6v4.6h-4.6zM208.2 473.5h4.6v4.6h-4.6zM208.7 473.2h4.6v4.6h-4.6zM209.4 469.7h4.6v4.6h-4.6zM209.9 473.1h4.6v4.6h-4.6zM210.4 473.5h4.6v4.6h-4.6zM211.0 473.0h4.6v4.6h-4.6zM211.7 470.2h4.6v4.6h-4.6zM212.1 473.2h4.6v4.6h-4.6zM212.7 472.4h4.6v4.6h-4.6zM213.3 469.7h4.6v4.6h-4.6zM213.9 469.7h4.6v4.6h-4.6zM214.3 473.9h4.6v4.6h-4.6zM214.9 472.6h4.6v4.6h-4.6zM215.5 470.8h4.6v4.6h-4.6zM216.1 470.2h4.6v4.6h-4.6zM216.7 470.4h4.6v4.6h-4.6zM217.2 470.8h4.6v4.6h-4.6zM217.7 473.2h4.6v4.6h-4.6zM218.3 471.3h4.6v4.6h-4.6zM218.9 470.5h4.6v4.6h-4.6zM219.3 473.8h4.6v4.6h-4.6zM219.9 473.4h4.6v4.6h-4.6zM220.5 470.7h4.6v4.6h-4.6zM221.0 473.9h4.6v4.6h-4.6zM221.6 472.6h4.6v4.6h-4.6zM222.1 473.4h4.6v4.6h-4.6zM222.5 472.9h4.6v4.6h-4.6zM222.8 474.0h4.6v4.6h-4.6zM223.5 473.7h4.6v4.6h-4.6zM223.9 474.1h4.6v4.6h-4.6zM225.2 471.5h4.6v4.6h-4.6zM225.2 473.7h4.6v4.6h-4.6zM225.9 473.2h4.6v4.6h-4.6zM226.2 474.2h4.6v4.6h-4.6zM227.1 473.1h4.6v4.6h-4.6zM227.1 475.1h4.6v4.6h-4.6zM228.1 473.9h4.6v4.6h-4.6zM228.9 472.8h4.6v4.6h-4.6zM229.5 472.8h4.6v4.6h-4.6zM230.2 472.6h4.6v4.6h-4.6zM230.3 474.2h4.6v4.6h-4.6zM231.3 472.5h4.6v4.6h-4.6zM231.4 474.4h4.6v4.6h-4.6zM232.3 473.2h4.6v4.6h-4.6zM232.5 474.8h4.6v4.6h-4.6zM233.0 475.0h4.6v4.6h-4.6zM233.5 475.3h4.6v4.6h-4.6zM233.7 476.8h4.6v4.6h-4.6zM235.2 473.3h4.6v4.6h-4.6zM234.8 477.0h4.6v4.6h-4.6zM235.7 475.6h4.6v4.6h-4.6zM236.3 476.0h4.6v4.6h-4.6zM236.8 476.5h4.6v4.6h-4.6zM237.4 477.3h4.6v4.6h-4.6zM238.0 475.2h4.6v4.6h-4.6zM238.6 475.5h4.6v4.6h-4.6zM239.0 477.9h4.6v4.6h-4.6zM239.8 474.0h4.6v4.6h-4.6zM240.2 476.5h4.6v4.6h-4.6zM240.8 476.5h4.6v4.6h-4.6zM241.5 473.9h4.6v4.6h-4.6zM242.0 476.4h4.6v4.6h-4.6zM242.5 476.8h4.6v4.6h-4.6zM243.0 477.9h4.6v4.6h-4.6zM243.7 475.3h4.6v4.6h-4.6zM244.2 478.2h4.6v4.6h-4.6zM244.8 476.1h4.6v4.6h-4.6zM245.4 476.0h4.6v4.6h-4.6zM245.9 477.9h4.6v4.6h-4.6zM246.6 474.1h4.6v4.6h-4.6zM247.1 477.1h4.6v4.6h-4.6zM247.8 476.7h4.6v4.6h-4.6zM248.1 475.4h4.6v4.6h-4.6zM249.1 477.5h4.6v4.6h-4.6zM249.2 475.3h4.6v4.6h-4.6zM249.9 475.6h4.6v4.6h-4.6zM250.5 475.7h4.6v4.6h-4.6zM251.2 476.7h4.6v4.6h-4.6zM251.3 474.2h4.6v4.6h-4.6zM252.0 475.0h4.6v4.6h-4.6zM252.5 474.8h4.6v4.6h-4.6zM253.2 475.3h4.6v4.6h-4.6zM254.0 476.4h4.6v4.6h-4.6zM254.1 473.9h4.6v4.6h-4.6zM255.1 476.1h4.6v4.6h-4.6zM255.2 474.2h4.6v4.6h-4.6zM255.9 474.5h4.6v4.6h-4.6zM256.2 473.4h4.6v4.6h-4.6zM257.0 474.3h4.6v4.6h-4.6zM257.9 476.2h4.6v4.6h-4.6zM258.2 474.7h4.6v4.6h-4.6zM258.9 475.2h4.6v4.6h-4.6zM259.0 473.1h4.6v4.6h-4.6zM259.6 472.9h4.6v4.6h-4.6zM260.2 472.8h4.6v4.6h-4.6zM260.9 474.0h4.6v4.6h-4.6zM261.5 474.1h4.6v4.6h-4.6zM262.1 474.7h4.6v4.6h-4.6zM262.3 471.4h4.6v4.6h-4.6zM263.2 474.3h4.6v4.6h-4.6zM263.8 474.9h4.6v4.6h-4.6zM264.2 473.4h4.6v4.6h-4.6zM264.5 471.2h4.6v4.6h-4.6zM265.2 472.2h4.6v4.6h-4.6zM265.6 470.9h4.6v4.6h-4.6zM266.3 471.6h4.6v4.6h-4.6zM267.2 474.7h4.6v4.6h-4.6zM267.6 473.3h4.6v4.6h-4.6zM268.2 473.5h4.6v4.6h-4.6zM268.8 474.0h4.6v4.6h-4.6zM269.5 474.4h4.6v4.6h-4.6zM269.9 473.1h4.6v4.6h-4.6zM270.4 473.0h4.6v4.6h-4.6zM271.0 473.0h4.6v4.6h-4.6zM271.6 473.2h4.6v4.6h-4.6zM272.1 472.7h4.6v4.6h-4.6zM272.7 473.1h4.6v4.6h-4.6zM273.1 470.9h4.6v4.6h-4.6zM273.8 472.9h4.6v4.6h-4.6zM274.3 471.9h4.6v4.6h-4.6zM275.0 473.2h4.6v4.6h-4.6zM275.3 470.2h4.6v4.6h-4.6zM275.9 470.5h4.6v4.6h-4.6zM276.4 469.8h4.6v4.6h-4.6zM277.3 473.0h4.6v4.6h-4.6zM277.7 473.5h4.6v4.6h-4.6zM278.3 472.4h4.6v4.6h-4.6zM278.8 471.1h4.6v4.6h-4.6zM279.4 473.1h4.6v4.6h-4.6zM280.0 472.9h4.6v4.6h-4.6zM280.5 471.9h4.6v4.6h-4.6zM281.0 470.6h4.6v4.6h-4.6zM281.6 470.7h4.6v4.6h-4.6zM282.1 471.2h4.6v4.6h-4.6zM282.7 470.8h4.6v4.6h-4.6zM283.2 471.3h4.6v4.6h-4.6zM283.8 472.2h4.6v4.6h-4.6zM284.4 473.4h4.6v4.6h-4.6zM284.9 469.6h4.6v4.6h-4.6zM285.5 471.8h4.6v4.6h-4.6zM286.0 469.5h4.6v4.6h-4.6zM286.5 469.8h4.6v4.6h-4.6zM287.2 472.8h4.6v4.6h-4.6zM287.7 471.8h4.6v4.6h-4.6zM288.3 473.3h4.6v4.6h-4.6zM288.8 471.2h4.6v4.6h-4.6zM289.3 469.3h4.6v4.6h-4.6zM289.9 470.9h4.6v4.6h-4.6zM290.5 471.8h4.6v4.6h-4.6zM291.1 473.3h4.6v4.6h-4.6zM291.6 473.5h4.6v4.6h-4.6zM292.1 471.2h4.6v4.6h-4.6zM292.7 470.9h4.6v4.6h-4.6zM293.2 469.6h4.6v4.6h-4.6zM293.8 471.9h4.6v4.6h-4.6zM294.3 470.0h4.6v4.6h-4.6zM294.9 469.7h4.6v4.6h-4.6zM295.4 469.1h4.6v4.6h-4.6zM296.0 469.1h4.6v4.6h-4.6zM296.6 472.0h4.6v4.6h-4.6zM297.1 469.5h4.6v4.6h-4.6zM297.7 473.3h4.6v4.6h-4.6zM298.3 469.4h4.6v4.6h-4.6zM298.8 472.8h4.6v4.6h-4.6zM299.4 469.6h4.6v4.6h-4.6zM299.9 469.1h4.6v4.6h-4.6zM300.5 472.2h4.6v4.6h-4.6zM301.0 470.1h4.6v4.6h-4.6zM301.6 472.2h4.6v4.6h-4.6zM302.1 469.8h4.6v4.6h-4.6zM302.7 469.2h4.6v4.6h-4.6zM303.2 472.4h4.6v4.6h-4.6zM303.8 472.1h4.6v4.6h-4.6zM304.3 472.8h4.6v4.6h-4.6zM304.9 472.2h4.6v4.6h-4.6zM305.4 469.4h4.6v4.6h-4.6zM306.0 471.8h4.6v4.6h-4.6zM306.5 472.1h4.6v4.6h-4.6zM307.1 471.0h4.6v4.6h-4.6zM307.6 473.1h4.6v4.6h-4.6zM308.2 470.1h4.6v4.6h-4.6zM308.7 473.2h4.6v4.6h-4.6zM309.3 472.2h4.6v4.6h-4.6zM309.8 469.1h4.6v4.6h-4.6zM310.4 469.1h4.6v4.6h-4.6zM310.9 471.9h4.6v4.6h-4.6zM311.5 472.6h4.6v4.6h-4.6zM312.0 469.4h4.6v4.6h-4.6zM312.6 470.4h4.6v4.6h-4.6zM313.1 472.2h4.6v4.6h-4.6z" fill="#0000ff"/>
<rect x="140" y="488" width="5" height="6" fill="#0000ff"/>
<path d="M314.5 465.7h4.6v4.6h-4.6zM315.0 465.2h4.6v4.6h-4.6zM314.9 464.6h4.6v4.6h-4.6zM314.7 464.0h4.6v4.6h-4.6zM315.0 463.5h4.6v4.6h-4.6zM315.2 462.9h4.6v4.6h-4.6zM315.2 462.4h4.6v4.6h-4.6zM315.4 461.8h4.6v4.6h-4.6zM315.2 461.2h4.6v4.6h-4.6zM315.7 460.7h4.6v4.6h-4.6zM315.5 460.1h4.6v4.6h-4.6zM315.8 459.6h4.6v4.6h-4.6zM315.8 459.0h4.6v4.6h-4.6zM315.8 458.5h4.6v4.6h-4.6zM315.9 457.9h4.6v4.6h-4.6zM316.2 457.4h4.6v4.6h-4.6zM316.4 456.9h4.6v4.6h-4.6zM316.4 456.3h4.6v4.6h-4.6zM316.3 455.7h4.6v4.6h-4.6zM316.2 455.1h4.6v4.6h-4.6zM316.2 454.6h4.6v4.6h-4.6zM316.8 454.1h4.6v4.6h-4.6zM316.7 453.5h4.6v4.6h-4.6zM316.9 453.0h4.6v4.6h-4.6zM316.6 452.4h4.6v4.6h-4.6zM316.9 451.9h4.6v4.6h-4.6zM317.2 451.4h4.6v4.6h-4.6zM317.2 450.8h4.6v4.6h-4.6zM317.1 450.3h4.6v4.6h-4.6zM317.0 449.7h4.6v4.6h-4.6zM317.1 449.1h4.6v4.6h-4.6zM317.5 448.6h4.6v4.6h-4.6zM317.2 448.1h4.6v4.6h-4.6zM317.5 447.5h4.6v4.6h-4.6zM317.5 447.0h4.6v4.6h-4.6zM317.8 446.5h4.6v4.6h-4.6zM317.8 445.9h4.6v4.6h-4.6zM317.6 445.3h4.6v4.6h-4.6zM317.5 444.8h4.6v4.6h-4.6zM317.7 444.2h4.6v4.6h-4.6z" fill="#0000ff"/>
<rect x="318.5" y="436.3" width="5" height="5.4" rx="0.8" fill="#0000ff"/>
<rect x="319.2" y="430.1" width="5" height="5.4" rx="0.8" fill="#0000ff"/>
<rect x="319.9" y="423.9" width="5" height="5.4" rx="0.8" fill="#0000ff"/>
<rect x="320.6" y="417.7" width="5" height="5.4" rx="0.8" fill="#0000ff"/>
<rect x="321.4" y="411.4" width="5" height="5.4" rx="0.8" fill="#0000ff"/>
<rect x="322.1" y="405.2" width="5" height="5.4" rx="0.8" fill="#0000ff"/>
<rect x="322.8" y="399.0" width="5" height="5.4" rx="0.8" fill="#0000ff"/>
<rect x="323.5" y="392.8" width="5" height="5.4" rx="0.8" fill="#0000ff"/>
<rect x="324.2" y="386.6" width="5" height="5.4" rx="0.8" fill="#0000ff"/>
<rect x="324.9" y="380.4" width="5" height="5.4" rx="0.8" fill="#0000ff"/>
<rect x="325.6" y="374.2" width="5" height="5.4" rx="0.8" fill="#0000ff"/>
<rect x="326.4" y="367.9" width="5" height="5.4" rx="0.8" fill="#0000ff"/>
<rect x="327.1" y="361.7" width="5" height="5.4" rx="0.8" fill="#0000ff"/>
<rect x="327.8" y="355.5" width="5" height="5.4" rx="0.8" fill="#0000ff"/>
<rect x="328.5" y="349.3" width="5" height="5.4" rx="0.8" fill="#0000ff"/>
<path d="M328.6 347.7h4.6v4.6h-4.6zM329.0 347.2h4.6v4.6h-4.6zM329.6 346.8h4.6v4.6h-4.6zM329.9 346.2h4.6v4.6h-4.6zM329.0 345.2h4.6v4.6h-4.6zM330.2 345.1h4.6v4.6h-4.6zM330.4 344.5h4.6v4.6h-4.6zM330.7 344.0h4.6v4.6h-4.6zM330.6 343.3h4.6v4.6h-4.6zM331.0 342.5h4.6v4.6h-4.6zM330.6 343.5h4.6v4.6h-4.6zM330.9 343.9h4.6v4.6h-4.6zM331.4 344.3h4.6v4.6h-4.6zM331.4 345.0h4.6v4.6h-4.6zM332.4 345.1h4.6v4.6h-4.6zM333.0 345.4h4.6v4.6h-4.6zM332.7 346.2h4.6v4.6h-4.6zM332.7 346.9h4.6v4.6h-4.6zM333.8 347.0h4.6v4.6h-4.6zM333.4 347.9h4.6v4.6h-4.6zM333.5 348.5h4.6v4.6h-4.6zM334.6 348.4h4.6v4.6h-4.6zM334.5 349.2h4.6v4.6h-4.6zM334.7 349.7h4.6v4.6h-4.6zM335.3 350.0h4.6v4.6h-4.6zM335.9 350.2h4.6v4.6h-4.6zM336.1 350.7h4.6v4.6h-4.6zM335.9 351.6h4.6v4.6h-4.6zM336.1 352.1h4.6v4.6h-4.6zM336.8 352.3h4.6v4.6h-4.6zM337.6 352.5h4.6v4.6h-4.6zM337.0 353.5h4.6v4.6h-4.6z" fill="#0000ff"/>
<path d="M336.7 354.3h4.6v4.6h-4.6zM339.0 353.6h4.6v4.6h-4.6zM338.0 354.8h4.6v4.6h-4.6zM337.0 356.0h4.6v4.6h-4.6zM337.4 356.5h4.6v4.6h-4.6zM339.0 356.1h4.6v4.6h-4.6zM339.5 356.5h4.6v4.6h-4.6zM339.3 357.3h4.6v4.6h-4.6zM341.1 356.9h4.6v4.6h-4.6zM341.4 357.3h4.6v4.6h-4.6zM341.7 357.8h4.6v4.6h-4.6zM340.0 359.4h4.6v4.6h-4.6zM341.6 359.2h4.6v4.6h-4.6zM341.1 360.1h4.6v4.6h-4.6zM342.0 360.2h4.6v4.6h-4.6zM341.8 360.9h4.6v4.6h-4.6zM343.5 360.6h4.6v4.6h-4.6zM344.2 360.9h4.6v4.6h-4.6zM340.9 363.4h4.6v4.6h-4.6zM343.5 362.5h4.6v4.6h-4.6zM344.8 362.4h4.6v4.6h-4.6zM343.1 364.1h4.6v4.6h-4.6zM342.8 364.9h4.6v4.6h-4.6zM345.4 364.0h4.6v4.6h-4.6zM344.1 365.4h4.6v4.6h-4.6zM345.3 365.4h4.6v4.6h-4.6zM344.8 366.3h4.6v4.6h-4.6zM347.1 365.9h4.6v4.6h-4.6zM347.3 366.4h4.6v4.6h-4.6zM343.6 368.6h4.6v4.6h-4.6zM344.3 368.9h4.6v4.6h-4.6zM346.1 368.8h4.6v4.6h-4.6zM346.0 369.4h4.6v4.6h-4.6zM347.4 369.4h4.6v4.6h-4.6zM345.6 370.9h4.6v4.6h-4.6zM347.2 370.8h4.6v4.6h-4.6zM345.3 372.2h4.6v4.6h-4.6zM346.3 372.4h4.6v4.6h-4.6zM346.3 373.0h4.6v4.6h-4.6zM345.9 373.8h4.6v4.6h-4.6zM349.0 373.1h4.6v4.6h-4.6zM350.1 373.2h4.6v4.6h-4.6zM349.7 374.0h4.6v4.6h-4.6zM350.0 374.5h4.6v4.6h-4.6zM350.6 374.8h4.6v4.6h-4.6zM351.0 375.3h4.6v4.6h-4.6zM349.1 376.7h4.6v4.6h-4.6zM348.1 377.7h4.6v4.6h-4.6zM350.0 377.6h4.6v4.6h-4.6zM348.2 378.9h4.6v4.6h-4.6zM348.6 379.4h4.6v4.6h-4.6zM352.2 378.4h4.6v4.6h-4.6zM350.3 379.9h4.6v4.6h-4.6zM351.4 380.0h4.6v4.6h-4.6zM352.7 379.9h4.6v4.6h-4.6zM349.7 382.2h4.6v4.6h-4.6zM352.7 381.2h4.6v4.6h-4.6zM351.8 382.3h4.6v4.6h-4.6zM351.8 383.0h4.6v4.6h-4.6zM350.8 384.2h4.6v4.6h-4.6zM352.2 384.1h4.6v4.6h-4.6zM353.5 384.0h4.6v4.6h-4.6zM353.6 384.6h4.6v4.6h-4.6zM355.0 384.5h4.6v4.6h-4.6zM352.1 386.7h4.6v4.6h-4.6zM352.3 387.2h4.6v4.6h-4.6zM355.5 386.1h4.6v4.6h-4.6zM356.5 386.2h4.6v4.6h-4.6zM356.0 387.2h4.6v4.6h-4.6zM355.9 387.9h4.6v4.6h-4.6zM354.0 389.5h4.6v4.6h-4.6zM354.2 390.0h4.6v4.6h-4.6zM354.8 390.4h4.6v4.6h-4.6zM358.1 389.3h4.6v4.6h-4.6zM355.5 391.3h4.6v4.6h-4.6zM356.1 391.6h4.6v4.6h-4.6zM356.6 392.0h4.6v4.6h-4.6zM355.6 393.2h4.6v4.6h-4.6zM359.5 391.9h4.6v4.6h-4.6zM359.3 392.5h4.6v4.6h-4.6zM357.1 394.2h4.6v4.6h-4.6zM356.6 395.0h4.6v4.6h-4.6zM357.9 395.0h4.6v4.6h-4.6zM359.7 394.8h4.6v4.6h-4.6zM358.7 395.9h4.6v4.6h-4.6zM358.3 396.7h4.6v4.6h-4.6zM361.1 396.0h4.6v4.6h-4.6zM360.5 396.9h4.6v4.6h-4.6zM361.0 397.3h4.6v4.6h-4.6zM361.7 397.5h4.6v4.6h-4.6zM360.5 398.7h4.6v4.6h-4.6zM362.0 398.6h4.6v4.6h-4.6zM362.0 399.2h4.6v4.6h-4.6zM362.6 399.5h4.6v4.6h-4.6zM360.7 401.0h4.6v4.6h-4.6zM363.5 400.3h4.6v4.6h-4.6zM361.0 402.1h4.6v4.6h-4.6zM363.3 401.6h4.6v4.6h-4.6zM364.1 401.8h4.6v4.6h-4.6zM360.8 404.0h4.6v4.6h-4.6zM363.9 403.2h4.6v4.6h-4.6zM361.2 405.0h4.6v4.6h-4.6zM361.9 405.7h4.6v4.6h-4.6zM362.2 406.2h4.6v4.6h-4.6zM365.2 404.6h4.6v4.6h-4.6zM364.5 405.9h4.6v4.6h-4.6zM366.0 405.4h4.6v4.6h-4.6zM363.5 408.1h4.6v4.6h-4.6zM364.2 408.3h4.6v4.6h-4.6zM365.3 408.2h4.6v4.6h-4.6zM366.3 408.1h4.6v4.6h-4.6zM367.0 408.3h4.6v4.6h-4.6zM365.7 410.0h4.6v4.6h-4.6zM367.2 409.5h4.6v4.6h-4.6zM367.1 410.4h4.6v4.6h-4.6zM369.1 409.5h4.6v4.6h-4.6zM369.2 410.1h4.6v4.6h-4.6zM370.1 410.1h4.6v4.6h-4.6zM368.2 412.4h4.6v4.6h-4.6zM369.2 412.4h4.6v4.6h-4.6zM370.7 411.5h4.6v4.6h-4.6zM369.0 414.3h4.6v4.6h-4.6zM371.2 412.7h4.6v4.6h-4.6zM371.2 413.5h4.6v4.6h-4.6zM372.4 413.0h4.6v4.6h-4.6zM372.5 413.8h4.6v4.6h-4.6zM371.2 416.0h4.6v4.6h-4.6zM373.1 414.7h4.6v4.6h-4.6zM374.0 414.5h4.6v4.6h-4.6zM373.5 416.0h4.6v4.6h-4.6zM374.4 415.8h4.6v4.6h-4.6zM373.2 418.1h4.6v4.6h-4.6zM375.9 415.8h4.6v4.6h-4.6zM373.8 419.1h4.6v4.6h-4.6zM376.9 416.4h4.6v4.6h-4.6zM374.9 419.5h4.6v4.6h-4.6zM375.9 419.2h4.6v4.6h-4.6zM377.7 418.0h4.6v4.6h-4.6zM377.3 419.3h4.6v4.6h-4.6zM378.4 419.0h4.6v4.6h-4.6zM378.9 419.3h4.6v4.6h-4.6zM379.4 419.6h4.6v4.6h-4.6zM379.3 420.5h4.6v4.6h-4.6zM377.8 422.8h4.6v4.6h-4.6zM378.2 423.2h4.6v4.6h-4.6zM378.8 423.4h4.6v4.6h-4.6zM381.8 421.2h4.6v4.6h-4.6zM381.6 422.2h4.6v4.6h-4.6zM380.1 424.5h4.6v4.6h-4.6zM383.1 422.3h4.6v4.6h-4.6zM381.4 424.8h4.6v4.6h-4.6zM383.1 423.9h4.6v4.6h-4.6zM381.4 426.4h4.6v4.6h-4.6zM384.8 423.8h4.6v4.6h-4.6zM382.8 426.7h4.6v4.6h-4.6zM384.6 425.6h4.6v4.6h-4.6zM385.6 425.3h4.6v4.6h-4.6zM386.5 425.3h4.6v4.6h-4.6zM384.4 428.3h4.6v4.6h-4.6zM385.7 427.7h4.6v4.6h-4.6zM387.1 427.0h4.6v4.6h-4.6zM386.8 428.2h4.6v4.6h-4.6zM385.8 430.2h4.6v4.6h-4.6zM388.3 428.3h4.6v4.6h-4.6zM387.7 429.8h4.6v4.6h-4.6zM389.4 428.8h4.6v4.6h-4.6zM390.0 429.8h4.6v4.6h-4.6zM387.8 431.4h4.6v4.6h-4.6zM388.3 431.8h4.6v4.6h-4.6zM390.6 431.4h4.6v4.6h-4.6zM391.3 431.7h4.6v4.6h-4.6zM391.5 432.2h4.6v4.6h-4.6zM389.6 433.7h4.6v4.6h-4.6zM390.3 434.0h4.6v4.6h-4.6zM391.4 434.1h4.6v4.6h-4.6zM391.9 434.5h4.6v4.6h-4.6zM390.5 435.7h4.6v4.6h-4.6zM390.4 436.4h4.6v4.6h-4.6zM390.2 437.1h4.6v4.6h-4.6zM391.3 437.2h4.6v4.6h-4.6zM393.1 437.1h4.6v4.6h-4.6zM393.9 437.3h4.6v4.6h-4.6zM391.4 439.0h4.6v4.6h-4.6zM392.9 439.0h4.6v4.6h-4.6zM391.9 440.0h4.6v4.6h-4.6zM394.8 439.4h4.6v4.6h-4.6zM392.0 441.2h4.6v4.6h-4.6zM394.1 440.9h4.6v4.6h-4.6zM392.3 442.3h4.6v4.6h-4.6zM392.5 442.9h4.6v4.6h-4.6zM394.2 442.7h4.6v4.6h-4.6zM396.4 442.4h4.6v4.6h-4.6zM393.0 444.6h4.6v4.6h-4.6zM395.0 444.3h4.6v4.6h-4.6zM393.6 445.5h4.6v4.6h-4.6zM396.3 445.0h4.6v4.6h-4.6zM396.8 445.4h4.6v4.6h-4.6zM394.5 447.1h4.6v4.6h-4.6zM396.6 446.8h4.6v4.6h-4.6zM397.6 446.9h4.6v4.6h-4.6zM397.0 447.8h4.6v4.6h-4.6zM396.4 448.8h4.6v4.6h-4.6zM399.0 448.2h4.6v4.6h-4.6zM397.1 449.7h4.6v4.6h-4.6zM397.7 450.1h4.6v4.6h-4.6zM397.6 450.7h4.6v4.6h-4.6zM399.4 450.3h4.6v4.6h-4.6zM397.5 452.1h4.6v4.6h-4.6zM397.4 452.8h4.6v4.6h-4.6zM397.5 453.4h4.6v4.6h-4.6zM399.8 452.7h4.6v4.6h-4.6zM398.6 454.0h4.6v4.6h-4.6zM400.2 453.7h4.6v4.6h-4.6zM399.1 455.1h4.6v4.6h-4.6zM402.0 454.0h4.6v4.6h-4.6zM399.2 456.3h4.6v4.6h-4.6zM399.2 457.0h4.6v4.6h-4.6zM401.2 456.4h4.6v4.6h-4.6zM401.4 456.9h4.6v4.6h-4.6zM401.6 457.4h4.6v4.6h-4.6zM401.9 457.9h4.6v4.6h-4.6zM404.1 457.2h4.6v4.6h-4.6zM400.9 459.8h4.6v4.6h-4.6zM403.9 458.6h4.6v4.6h-4.6zM404.1 458.6h4.6v4.6h-4.6zM404.7 458.7h4.6v4.6h-4.6zM404.8 459.5h4.6v4.6h-4.6zM403.7 461.9h4.6v4.6h-4.6zM406.3 459.5h4.6v4.6h-4.6zM406.6 460.1h4.6v4.6h-4.6zM405.5 462.5h4.6v4.6h-4.6zM407.3 461.1h4.6v4.6h-4.6zM408.2 460.9h4.6v4.6h-4.6zM407.1 463.3h4.6v4.6h-4.6zM407.6 463.5h4.6v4.6h-4.6zM408.2 463.7h4.6v4.6h-4.6zM408.2 464.7h4.6v4.6h-4.6zM410.3 463.0h4.6v4.6h-4.6zM408.9 466.1h4.6v4.6h-4.6zM409.7 465.8h4.6v4.6h-4.6zM411.7 463.5h4.6v4.6h-4.6zM412.0 464.1h4.6v4.6h-4.6zM411.7 465.8h4.6v4.6h-4.6zM412.2 466.1h4.6v4.6h-4.6zM413.2 465.6h4.6v4.6h-4.6zM414.0 465.3h4.6v4.6h-4.6zM413.9 466.6h4.6v4.6h-4.6zM415.0 465.9h4.6v4.6h-4.6zM414.5 467.9h4.6v4.6h-4.6zM414.4 469.2h4.6v4.6h-4.6zM416.5 466.8h4.6v4.6h-4.6zM416.0 468.7h4.6v4.6h-4.6zM415.9 469.5h4.6v4.6h-4.6zM418.1 468.1h4.6v4.6h-4.6zM416.5 470.5h4.6v4.6h-4.6zM416.5 471.3h4.6v4.6h-4.6zM418.6 470.0h4.6v4.6h-4.6zM418.9 470.5h4.6v4.6h-4.6zM418.0 472.2h4.6v4.6h-4.6zM419.4 471.6h4.6v4.6h-4.6zM420.2 471.6h4.6v4.6h-4.6zM418.9 473.7h4.6v4.6h-4.6zM419.8 473.6h4.6v4.6h-4.6zM421.6 472.6h4.6v4.6h-4.6zM422.3 472.7h4.6v4.6h-4.6zM422.4 473.4h4.6v4.6h-4.6zM422.5 474.1h4.6v4.6h-4.6zM421.5 476.5h4.6v4.6h-4.6zM422.4 476.1h4.6v4.6h-4.6zM422.6 476.8h4.6v4.6h-4.6zM423.3 476.8h4.6v4.6h-4.6zM423.7 477.2h4.6v4.6h-4.6zM426.1 474.6h4.6v4.6h-4.6zM425.4 476.6h4.6v4.6h-4.6zM424.8 478.5h4.6v4.6h-4.6zM425.3 478.8h4.6v4.6h-4.6zM427.5 476.6h4.6v4.6h-4.6zM427.5 477.5h4.6v4.6h-4.6zM427.5 478.6h4.6v4.6h-4.6zM428.6 477.9h4.6v4.6h-4.6zM428.7 478.8h4.6v4.6h-4.6zM428.7 476.7h4.6v4.6h-4.6zM429.7 478.1h4.6v4.6h-4.6zM430.3 478.3h4.6v4.6h-4.6zM430.3 476.1h4.6v4.6h-4.6zM431.0 476.4h4.6v4.6h-4.6zM432.5 479.8h4.6v4.6h-4.6zM432.8 478.8h4.6v4.6h-4.6zM433.5 479.3h4.6v4.6h-4.6zM433.7 477.9h4.6v4.6h-4.6zM434.5 478.5h4.6v4.6h-4.6zM435.1 478.6h4.6v4.6h-4.6zM435.6 478.5h4.6v4.6h-4.6zM435.4 474.7h4.6v4.6h-4.6zM436.3 477.2h4.6v4.6h-4.6zM436.6 475.5h4.6v4.6h-4.6zM437.5 477.2h4.6v4.6h-4.6zM437.7 475.4h4.6v4.6h-4.6zM438.5 476.4h4.6v4.6h-4.6zM439.3 478.0h4.6v4.6h-4.6zM439.6 476.6h4.6v4.6h-4.6zM439.9 474.9h4.6v4.6h-4.6zM440.6 476.0h4.6v4.6h-4.6zM441.1 475.5h4.6v4.6h-4.6zM441.4 477.7h4.6v4.6h-4.6zM442.4 474.9h4.6v4.6h-4.6zM442.9 475.0h4.6v4.6h-4.6zM443.2 476.6h4.6v4.6h-4.6zM444.2 474.4h4.6v4.6h-4.6zM444.4 476.6h4.6v4.6h-4.6zM444.6 478.2h4.6v4.6h-4.6zM445.5 476.4h4.6v4.6h-4.6zM446.2 475.4h4.6v4.6h-4.6zM446.6 476.4h4.6v4.6h-4.6zM447.1 476.8h4.6v4.6h-4.6zM447.4 475.2h4.6v4.6h-4.6zM448.0 475.0h4.6v4.6h-4.6zM448.5 474.9h4.6v4.6h-4.6zM449.2 475.5h4.6v4.6h-4.6zM449.8 475.9h4.6v4.6h-4.6zM450.3 475.3h4.6v4.6h-4.6zM450.8 475.0h4.6v4.6h-4.6zM451.2 474.3h4.6v4.6h-4.6zM452.1 476.2h4.6v4.6h-4.6zM452.9 477.4h4.6v4.6h-4.6zM453.2 476.3h4.6v4.6h-4.6zM453.6 476.0h4.6v4.6h-4.6zM454.0 476.5h4.6v4.6h-4.6zM455.2 474.8h4.6v4.6h-4.6zM455.0 477.1h4.6v4.6h-4.6zM455.9 476.3h4.6v4.6h-4.6zM456.4 476.8h4.6v4.6h-4.6zM456.8 477.3h4.6v4.6h-4.6zM457.6 476.8h4.6v4.6h-4.6zM458.3 476.4h4.6v4.6h-4.6zM459.0 476.3h4.6v4.6h-4.6zM459.5 476.4h4.6v4.6h-4.6zM459.7 477.7h4.6v4.6h-4.6zM460.4 477.6h4.6v4.6h-4.6zM460.4 478.6h4.6v4.6h-4.6zM462.3 476.8h4.6v4.6h-4.6zM461.9 478.3h4.6v4.6h-4.6zM461.2 480.5h4.6v4.6h-4.6zM463.1 478.5h4.6v4.6h-4.6zM462.9 480.0h4.6v4.6h-4.6zM463.5 480.0h4.6v4.6h-4.6zM464.4 479.5h4.6v4.6h-4.6zM463.3 482.5h4.6v4.6h-4.6zM465.4 480.2h4.6v4.6h-4.6zM464.7 482.2h4.6v4.6h-4.6zM466.6 480.2h4.6v4.6h-4.6zM467.3 480.2h4.6v4.6h-4.6zM465.9 483.5h4.6v4.6h-4.6zM467.4 482.2h4.6v4.6h-4.6zM468.5 480.9h4.6v4.6h-4.6zM468.4 482.5h4.6v4.6h-4.6zM468.9 482.9h4.6v4.6h-4.6zM468.9 484.3h4.6v4.6h-4.6zM470.5 482.1h4.6v4.6h-4.6zM470.9 482.8h4.6v4.6h-4.6zM470.1 486.0h4.6v4.6h-4.6zM471.0 485.3h4.6v4.6h-4.6zM472.6 483.2h4.6v4.6h-4.6zM472.8 484.1h4.6v4.6h-4.6zM473.3 484.4h4.6v4.6h-4.6zM473.3 486.0h4.6v4.6h-4.6zM473.9 486.0h4.6v4.6h-4.6zM474.0 487.1h4.6v4.6h-4.6zM474.6 487.3h4.6v4.6h-4.6zM475.7 486.3h4.6v4.6h-4.6zM476.3 487.2h4.6v4.6h-4.6zM476.8 487.2h4.6v4.6h-4.6zM477.4 487.3h4.6v4.6h-4.6zM477.9 486.0h4.6v4.6h-4.6zM478.5 487.4h4.6v4.6h-4.6zM479.0 487.0h4.6v4.6h-4.6zM479.6 487.9h4.6v4.6h-4.6zM480.1 484.5h4.6v4.6h-4.6zM480.7 487.7h4.6v4.6h-4.6zM481.2 483.9h4.6v4.6h-4.6zM481.8 487.2h4.6v4.6h-4.6zM482.3 486.4h4.6v4.6h-4.6zM482.8 486.0h4.6v4.6h-4.6zM483.4 488.1h4.6v4.6h-4.6zM484.0 486.3h4.6v4.6h-4.6zM484.5 485.6h4.6v4.6h-4.6zM485.1 487.2h4.6v4.6h-4.6zM485.6 487.6h4.6v4.6h-4.6zM486.2 486.4h4.6v4.6h-4.6zM486.7 485.4h4.6v4.6h-4.6zM487.2 485.7h4.6v4.6h-4.6zM487.8 485.7h4.6v4.6h-4.6zM488.4 486.9h4.6v4.6h-4.6zM488.9 485.0h4.6v4.6h-4.6zM489.4 485.4h4.6v4.6h-4.6zM490.0 486.1h4.6v4.6h-4.6zM490.5 485.4h4.6v4.6h-4.6zM491.1 485.1h4.6v4.6h-4.6zM491.7 487.1h4.6v4.6h-4.6zM492.2 487.4h4.6v4.6h-4.6zM492.7 485.8h4.6v4.6h-4.6zM493.3 485.6h4.6v4.6h-4.6zM493.8 484.4h4.6v4.6h-4.6zM494.4 484.9h4.6v4.6h-4.6zM494.9 484.2h4.6v4.6h-4.6zM495.5 486.1h4.6v4.6h-4.6zM496.1 486.1h4.6v4.6h-4.6zM496.6 483.9h4.6v4.6h-4.6zM497.2 487.6h4.6v4.6h-4.6zM497.7 484.9h4.6v4.6h-4.6zM498.3 487.2h4.6v4.6h-4.6zM498.8 487.2h4.6v4.6h-4.6zM499.4 487.7h4.6v4.6h-4.6zM499.9 484.4h4.6v4.6h-4.6zM500.5 485.4h4.6v4.6h-4.6zM501.0 487.5h4.6v4.6h-4.6zM501.6 483.5h4.6v4.6h-4.6zM502.1 483.7h4.6v4.6h-4.6zM502.7 486.0h4.6v4.6h-4.6zM503.2 485.7h4.6v4.6h-4.6zM503.8 487.5h4.6v4.6h-4.6zM504.3 486.9h4.6v4.6h-4.6zM504.9 485.9h4.6v4.6h-4.6zM505.5 487.9h4.6v4.6h-4.6zM506.0 485.8h4.6v4.6h-4.6zM506.6 485.8h4.6v4.6h-4.6zM507.1 486.5h4.6v4.6h-4.6zM507.7 485.2h4.6v4.6h-4.6zM508.2 485.1h4.6v4.6h-4.6zM508.8 486.1h4.6v4.6h-4.6zM509.3 485.0h4.6v4.6h-4.6zM509.9 487.7h4.6v4.6h-4.6zM510.4 486.5h4.6v4.6h-4.6zM511.0 485.8h4.6v4.6h-4.6zM511.6 483.9h4.6v4.6h-4.6zM512.1 485.1h4.6v4.6h-4.6zM512.7 485.3h4.6v4.6h-4.6zM513.2 486.0h4.6v4.6h-4.6zM513.8 486.0h4.6v4.6h-4.6zM514.3 487.4h4.6v4.6h-4.6zM514.9 487.7h4.6v4.6h-4.6zM515.4 485.6h4.6v4.6h-4.6zM516.0 485.4h4.6v4.6h-4.6zM516.5 486.2h4.6v4.6h-4.6zM517.1 487.9h4.6v4.6h-4.6zM517.6 485.0h4.6v4.6h-4.6zM518.2 485.8h4.6v4.6h-4.6zM518.8 487.1h4.6v4.6h-4.6zM519.3 484.3h4.6v4.6h-4.6zM519.9 484.9h4.6v4.6h-4.6zM520.4 487.8h4.6v4.6h-4.6zM521.0 487.1h4.6v4.6h-4.6zM521.5 485.8h4.6v4.6h-4.6zM522.1 484.0h4.6v4.6h-4.6zM522.6 487.4h4.6v4.6h-4.6zM523.2 486.5h4.6v4.6h-4.6zM523.7 487.1h4.6v4.6h-4.6zM524.3 487.9h4.6v4.6h-4.6zM524.8 487.4h4.6v4.6h-4.6zM525.4 485.4h4.6v4.6h-4.6zM526.0 484.2h4.6v4.6h-4.6zM526.5 484.8h4.6v4.6h-4.6zM527.1 485.8h4.6v4.6h-4.6zM527.6 485.7h4.6v4.6h-4.6zM528.2 484.3h4.6v4.6h-4.6zM528.7 484.3h4.6v4.6h-4.6zM529.3 486.3h4.6v4.6h-4.6zM529.8 486.2h4.6v4.6h-4.6zM530.4 485.1h4.6v4.6h-4.6zM530.9 487.9h4.6v4.6h-4.6zM531.5 486.3h4.6v4.6h-4.6zM532.1 483.7h4.6v4.6h-4.6zM532.6 485.3h4.6v4.6h-4.6zM533.2 487.0h4.6v4.6h-4.6zM533.7 484.8h4.6v4.6h-4.6zM534.3 486.5h4.6v4.6h-4.6zM534.8 483.5h4.6v4.6h-4.6zM535.4 484.8h4.6v4.6h-4.6zM535.9 487.2h4.6v4.6h-4.6zM536.5 486.1h4.6v4.6h-4.6zM537.0 486.4h4.6v4.6h-4.6zM537.6 484.4h4.6v4.6h-4.6zM538.1 485.7h4.6v4.6h-4.6z" fill="#0000ff"/>
<polyline points="132.5,460.8 133.7,472.1 134.9,460.5 136.1,473.2 137.3,459.2 138.5,473.5 139.7,461.6 140.9,471.8 142.1,462.8 143.3,474.4 144.5,463.1 145.7,471.9 146.9,462.9 148.1,473.7 149.3,460.4 150.5,474.2 151.7,460.6 152.9,472.1 154.1,463.9 155.3,475.0 156.5,462.7 157.7,474.9 158.9,462.7 160.1,472.8 161.3,463.1 162.5,472.6 163.7,460.6 164.9,474.6 166.1,462.9 167.3,474.1 168.5,462.8 169.7,472.6 170.9,460.8 172.1,474.7 173.3,460.6 174.5,474.2 175.7,462.0 176.9,473.5 178.1,464.3 179.3,476.2 180.5,461.1 181.7,473.8 182.9,460.9 184.1,475.8 185.3,463.3 186.5,474.9 187.7,460.6 188.9,474.4 190.1,460.6 191.3,473.4 192.5,462.8 193.7,475.2 194.9,463.4 196.1,473.6 197.3,460.7 198.5,474.2 199.7,461.0 200.9,473.1 202.1,463.4 203.3,473.5 204.5,463.3 205.7,475.9 206.9,462.8 208.1,474.2 209.3,463.4 210.5,474.0 211.7,462.2 212.9,473.3 214.1,463.4 215.3,472.1 216.5,460.2 217.7,472.9 218.9,462.4 220.1,472.2 221.3,462.2 222.5,472.3 223.7,463.1 224.9,473.9 226.1,461.7 227.3,471.7 228.5,460.2 229.7,471.4 230.9,461.8 232.1,474.3 233.3,462.3 234.5,472.6 235.7,459.4 236.9,474.0 238.1,462.1 239.3,472.1 240.5,459.8 241.7,472.1 242.9,458.8 244.1,471.4 245.3,458.8 246.5,472.6 247.7,461.6 248.9,472.3 250.1,462.0 251.3,473.3 252.5,461.5 253.7,474.1 254.9,460.2 256.1,472.0 257.3,461.5 258.5,473.0 259.7,461.7 260.9,474.0 262.1,462.1 263.3,472.6 264.5,460.5 265.7,471.7 266.9,459.6 268.1,472.2 269.3,460.1 270.5,473.0 271.7,461.6 272.9,472.4 274.1,462.6 275.3,471.6 276.5,459.6 277.7,472.3 278.9,460.4 280.1,471.5 281.3,460.9 282.5,472.6 283.7,461.3 284.9,472.5 286.1,463.1 287.3,472.6 288.5,462.6 289.7,472.0 290.9,460.7 292.1,472.7 293.3,462.1 294.5,475.3 295.7,460.7 296.9,475.3" fill="none" stroke="#000" stroke-width="1.4" stroke-linejoin="round"/>
<polyline points="133.0,467.2 134.0,465.8 135.0,466.1 136.0,465.6 137.0,466.9 138.0,466.9 139.0,466.2 140.0,466.4 141.0,466.9 142.0,467.0 143.0,466.1 144.0,467.3 145.0,466.3 146.0,466.8 147.0,465.9 148.0,465.8 149.0,467.4 150.0,467.1 151.0,467.0 152.0,465.7 153.0,465.7 154.0,466.0 155.0,466.0 156.0,466.2 157.0,466.4 158.0,465.7 159.0,466.3 160.0,466.9 161.0,466.0 162.0,467.4 163.0,466.8 164.0,467.1 165.0,466.2 166.0,466.6 167.0,467.1 168.0,466.4 169.0,465.7 170.0,467.4 171.0,467.3 172.0,466.3 173.0,465.8 174.0,467.5 175.0,467.0 176.0,465.9 177.0,466.3 178.0,466.0 179.0,467.4 180.0,466.2 181.0,467.6 182.0,467.3 183.0,466.0 184.0,467.2 185.0,466.6 186.0,467.3 187.0,467.5 188.0,466.4 189.0,466.0 190.0,467.7 191.0,466.7 192.0,467.7 193.0,467.2 194.0,467.3 195.0,467.5 196.0,467.1 197.0,466.8 198.0,466.0 199.0,467.3 200.0,466.8 201.0,466.9 202.0,467.8 203.0,466.2 204.0,467.5 205.0,466.0 206.0,467.4 207.0,467.6 208.0,466.5 209.0,467.1 210.0,467.9 211.0,467.3 212.0,467.1 213.0,466.5 214.0,466.1 215.0,466.7 216.0,466.8 217.0,466.4 218.0,466.6 219.0,466.3 220.0,467.4 221.0,467.4 222.0,466.5 223.0,466.5 224.0,467.1 225.0,467.0 226.0,467.9 227.0,466.8 228.0,466.7 229.0,467.9 230.0,466.4 231.0,467.2 232.0,466.8 233.0,467.7 234.0,467.2 235.0,467.6 236.0,466.5 237.0,467.5 238.0,467.3 239.0,467.1 240.0,467.7 241.0,467.8 242.0,466.4 243.0,466.7 244.0,466.9 245.0,466.6 246.0,466.3 247.0,466.8 248.0,466.6 249.0,467.6 250.0,467.1 251.0,466.4 252.0,466.9 253.0,467.2 254.0,467.0 255.0,466.6 256.0,466.4 257.0,466.3 258.0,468.2 259.0,467.8 260.0,466.4 261.0,467.7 262.0,468.2 263.0,467.4 264.0,466.5 265.0,467.3 266.0,467.2 267.0,466.7 268.0,467.4 269.0,466.3 270.0,468.2 271.0,467.6 272.0,467.6 273.0,468.2 274.0,467.7 275.0,466.9 276.0,466.9 277.0,466.7 278.0,466.4 279.0,467.9 280.0,468.1 281.0,467.0 282.0,466.8 283.0,467.7 284.0,468.1 285.0,468.3 286.0,466.8 287.0,468.0 288.0,468.1 289.0,467.9 290.0,467.1 291.0,466.8 292.0,468.1 293.0,467.1 294.0,467.2 295.0,467.6 296.0,467.2 297.0,467.5" fill="none" stroke="#000" stroke-width="5" stroke-opacity="0.25"/>
<path d="M307.0 233.0L307.0 239.0M307.0 241.8L306.6 254.5M306.4 260.0L305.9 271.8M305.8 274.5L305.3 285.5M305.2 289.0L304.6 303.6M303.3 336.0L302.2 370.0M302.0 378.0L301.2 403.6M300.8 412.0L300.0 437.6" fill="none" stroke="#111" stroke-width="2.1"/>
<polyline points="299.7,442.0 299.1,448.0 298.8,452.0 298.1,456.0 297.5,460.0 297.0,463.0" fill="none" stroke="#000" stroke-width="2.4" stroke-linejoin="round"/>
<polyline points="307.0,233.0 310.0,222.0 312.0,210.0 314.5,200.0 314.5,181.0 317.0,183.0 319.0,178.0 321.0,168.0 322.7,158.0" fill="none" stroke="#000" stroke-width="2.5" stroke-linejoin="round"/>
<polyline points="323.0,150.0 323.6,140.0 326.0,125.0 328.0,112.0 330.0,99.0" fill="none" stroke="#000" stroke-width="3" stroke-linejoin="round"/>
<polyline points="329.5,103.8 330.3,108.4 331.1,98.3 331.9,111.7 332.7,102.4 333.5,114.2 334.3,102.9 335.1,115.1 335.9,104.6 336.7,110.9 337.5,101.5 338.3,107.6 339.1,100.1 339.9,111.8 340.7,98.6 341.5,112.9 342.3,99.1 343.1,110.4 343.9,104.8 344.7,106.9 345.5,98.3 346.3,110.4 347.1,99.3 347.9,113.2 348.7,98.0 349.5,114.4 350.3,104.0 351.1,113.9 351.9,101.0 352.7,108.8" fill="none" stroke="#000" stroke-width="2" stroke-linejoin="round"/>
<line x1="339.5" y1="110" x2="339.5" y2="125" stroke="#000" stroke-width="1.8"/>
<polyline points="350.0,103.3 350.3,104.0 350.5,104.9 350.8,105.7 351.1,106.9 351.4,108.3 351.6,109.6 351.9,110.7 352.2,110.4 352.4,111.6 352.7,112.9 353.1,114.1 353.5,114.7 353.8,115.5 354.2,116.3 354.6,117.7 355.0,118.9 355.4,120.8 355.7,121.7 356.1,122.7 356.5,123.9 356.9,124.8 357.2,125.2 357.6,126.6 358.0,126.2 358.4,128.3 358.8,129.1 359.2,129.4 359.6,130.9 360.0,132.5 360.4,132.6 360.8,133.8 361.2,134.1 361.6,135.1 362.0,137.0 362.4,136.4 362.8,137.6 363.2,139.5 363.6,140.0 364.0,140.3 364.4,142.2 364.7,142.7 365.1,144.0 365.4,144.6 365.8,145.8 366.1,146.8 366.4,147.5 366.8,147.9 367.1,149.0 367.5,151.2 367.9,151.5 368.2,151.7 368.6,154.0 368.9,153.9 369.2,154.5 369.6,156.3 369.9,156.7 370.3,158.1 370.6,159.1 371.0,159.5 371.3,161.1 371.6,161.3 371.9,163.0 372.2,164.2 372.5,164.2 372.8,165.8 373.1,166.2 373.4,167.9 373.7,169.7 374.0,170.1 374.3,171.4 374.6,172.5 374.9,172.3 375.2,174.9 375.5,175.4 375.8,175.3 376.1,177.6 376.4,177.8 376.7,178.4 377.0,180.8 377.2,181.1 377.5,182.4 377.7,182.3 377.9,184.4 378.2,184.1 378.4,185.4 378.6,186.6 378.8,186.9 379.1,189.0 379.3,189.3 379.5,190.4 379.8,192.1 380.0,192.6 380.2,194.4 380.5,194.9 380.7,196.3 380.9,196.7 381.2,198.3 381.4,199.2 381.6,198.9 381.9,201.0 382.1,201.2 382.3,202.9 382.6,203.8 382.8,205.0 383.0,204.7 383.3,206.1 383.5,207.8 383.7,209.1 384.0,209.7 384.2,209.5 384.4,211.4 384.7,211.5 384.9,213.3 385.1,214.7 385.4,214.5 385.6,216.9 385.8,217.4 386.1,217.7 386.3,218.5 386.5,220.0 386.8,221.6 387.0,222.1 387.2,220.3 387.5,219.1 387.8,218.3 388.0,218.5 388.2,216.4 388.5,216.1 388.8,214.6 389.0,214.3 389.2,214.8 389.5,215.4 389.7,217.7 389.9,218.1 390.2,219.3 390.4,220.6 390.6,221.8 390.8,221.1 391.1,222.7 391.3,223.4 391.5,225.0 391.8,226.7 392.0,227.5 392.2,227.2 392.4,228.4 392.6,230.6 392.8,231.3 393.0,231.8 393.2,233.0 393.4,233.4 393.6,235.6 393.8,235.8 394.0,237.7 394.2,238.2 394.4,238.2 394.6,239.7 394.8,240.5 395.0,242.7 395.2,243.2 395.4,243.2 395.6,244.4 395.8,245.7 396.0,246.9 396.2,248.1 396.4,248.8 396.6,249.7 396.8,250.1 397.0,252.1 397.2,252.7 397.4,253.1 397.6,254.9 397.8,256.9 398.0,256.2 398.2,257.4 398.4,259.3 398.6,259.6 398.8,260.6 399.0,262.0 399.2,262.6 399.4,264.1 399.6,265.1 399.8,266.8 400.0,267.9 400.2,267.2 400.4,269.1 400.6,270.5 400.8,271.7 400.9,272.5 401.1,273.2 401.3,274.2 401.5,274.8 401.7,275.6 401.9,277.5 402.1,278.7 402.3,279.8 402.5,280.3 402.7,280.6 402.9,282.5 403.1,283.4 403.3,284.0 403.5,285.2 403.7,285.7 403.9,287.1 404.1,287.8 404.2,288.2 404.4,289.7 404.6,290.7 404.8,292.9 405.0,293.0 405.2,293.8 405.4,294.5 405.6,295.5 405.8,296.7 406.0,297.3 406.3,298.1 406.6,300.6 406.9,300.8 407.1,301.7 407.4,302.9 407.7,303.4 408.0,304.1 408.3,304.9 408.6,306.3 408.9,307.2 409.1,309.0 409.4,309.6 409.7,311.3 410.0,311.1 410.3,313.1 410.6,313.5 410.9,313.6 411.1,314.7 411.4,316.4 411.7,318.1 412.0,317.9 412.3,319.6 412.6,319.9 412.9,321.7 413.1,321.2 413.4,322.9 413.7,324.6 414.0,324.5 414.3,325.4 414.6,325.9 414.9,327.1 415.1,328.3 415.4,330.0 415.7,330.1 416.0,331.4 416.3,332.0 416.6,333.7 416.9,335.1 417.1,335.7 417.4,335.8 417.7,337.7 418.0,339.1 418.3,339.4 418.6,339.4 418.9,341.7 419.1,342.8 419.4,342.8 419.7,343.4 420.0,344.4 420.3,346.0 420.6,347.6 420.9,348.2 421.2,349.7 421.5,349.3 421.8,350.5 422.0,352.3 422.3,353.0 422.6,353.6 422.9,355.0 423.2,355.4 423.5,355.9 423.8,357.5 424.1,357.8 424.4,359.8 424.7,360.3 425.0,361.5 425.2,362.7 425.5,363.0 425.8,364.4 426.1,364.5 426.4,367.2 426.7,367.5 427.0,369.2 427.3,368.5 427.6,370.5 427.9,371.7 428.2,371.9 428.5,372.5 428.8,373.5 429.0,374.5 429.3,376.6 429.6,376.3 429.9,378.6 430.2,378.9 430.5,380.0" fill="none" stroke="#000" stroke-width="4.3" stroke-linejoin="round" stroke-linecap="round"/>
<polyline points="430.5,380.1 430.8,381.2 431.1,382.1 431.4,383.3 431.7,384.1 432.0,384.5 432.3,386.4 432.6,386.2 432.9,388.3 433.2,389.4 433.4,390.4 433.7,390.3 434.0,392.3 434.3,393.8 434.6,393.5 434.9,394.1 435.2,395.6 435.5,397.6 435.8,396.7 436.1,397.3 436.4,399.4 436.7,400.8 437.0,402.1 437.3,402.1 437.6,404.6 437.9,403.7 438.2,405.9 438.5,405.3 438.8,406.1 439.1,407.4 439.3,408.2 439.6,410.2 439.9,411.3 440.2,411.4 440.5,414.2 440.8,413.8 441.1,414.2 441.4,415.3 441.7,417.6 442.0,419.0 442.3,418.2 442.7,418.8 443.0,421.6 443.3,421.3 443.7,424.0 444.0,423.8 444.3,425.1 444.7,425.4 445.0,427.4 445.3,427.6 445.7,428.2 446.0,430.6 446.3,429.7 446.7,432.1 447.0,431.5 447.3,433.9 447.7,434.2 448.0,436.3 448.3,435.4 448.7,437.5 449.0,438.1 449.3,440.3 449.7,441.4 450.0,441.6 450.3,441.6 450.7,442.6 451.0,443.6 451.3,445.0 451.7,445.5 452.0,446.4 452.3,448.7 452.7,449.4 453.0,449.5 453.5,452.1 453.9,451.2 454.4,453.0 454.9,452.9 455.3,455.5 455.8,456.5 456.3,456.0 456.7,458.1 457.2,459.2 457.7,458.8 458.1,459.9 458.6,461.2 459.1,463.1 459.5,462.3 460.0,464.4 460.5,465.1 461.1,465.7 461.6,466.8 462.2,468.5 462.7,467.7 463.2,470.2 463.8,469.9 464.3,471.7 464.8,472.8 465.4,472.1 465.9,474.6 466.5,475.8 467.0,475.0 467.6,475.2 468.3,476.3 468.9,479.2 469.5,477.8 470.2,480.8 470.8,479.8 471.5,482.1 472.1,481.4 472.7,482.5 473.4,484.6 474.0,484.0 474.6,485.5 475.3,487.7 475.9,488.1 476.6,489.4 477.2,490.5 477.9,489.0 478.6,490.4 479.2,492.6 479.9,493.2 480.5,493.6" fill="none" stroke="#000" stroke-width="5.5" stroke-linejoin="round" stroke-linecap="round"/>
<polyline points="480.0,493.8 481.0,502.5 482.0,492.8 483.0,502.2 484.0,493.5 485.0,500.1 486.0,489.0 487.0,501.6 488.0,489.6 489.0,500.6 490.0,491.6 491.0,500.7 492.0,491.9 493.0,500.9 494.0,490.6 495.0,500.7 496.0,490.3 497.0,502.5 498.0,493.4 499.0,501.8 500.0,491.5 501.0,504.6 502.0,492.3 503.0,501.1 504.0,489.2 505.0,504.4 506.0,490.3 507.0,501.4 508.0,493.1 509.0,501.3 510.0,493.7 511.0,500.2 512.0,491.5 513.0,502.0 514.0,491.2 515.0,501.8 516.0,493.9 517.0,503.4 518.0,490.7 519.0,502.7 520.0,491.3 521.0,503.5 522.0,489.1 523.0,504.4 524.0,490.4 525.0,502.0 526.0,492.4 527.0,502.1 528.0,489.1 529.0,501.9 530.0,492.1 531.0,502.0 532.0,493.3 533.0,505.0 534.0,494.0 535.0,503.0 536.0,489.4 537.0,501.3 538.0,490.9 539.0,501.9 540.0,492.8 541.0,501.0" fill="none" stroke="#000" stroke-width="1.6" stroke-linejoin="round"/>
<path d="M483.7 484.0h4.6v4.6h-4.6zM484.3 487.2h4.6v4.6h-4.6zM484.8 486.9h4.6v4.6h-4.6zM485.4 487.5h4.6v4.6h-4.6zM485.9 483.7h4.6v4.6h-4.6zM486.5 486.6h4.6v4.6h-4.6zM487.0 484.9h4.6v4.6h-4.6zM487.6 486.3h4.6v4.6h-4.6zM488.1 485.9h4.6v4.6h-4.6zM488.7 484.9h4.6v4.6h-4.6zM489.3 487.8h4.6v4.6h-4.6zM489.8 483.5h4.6v4.6h-4.6zM490.4 486.8h4.6v4.6h-4.6zM490.9 487.3h4.6v4.6h-4.6zM491.5 485.7h4.6v4.6h-4.6zM492.0 486.1h4.6v4.6h-4.6zM492.6 487.9h4.6v4.6h-4.6zM493.1 484.5h4.6v4.6h-4.6zM493.7 486.3h4.6v4.6h-4.6zM494.3 486.8h4.6v4.6h-4.6zM494.8 485.2h4.6v4.6h-4.6zM495.4 486.6h4.6v4.6h-4.6zM495.9 485.2h4.6v4.6h-4.6zM496.5 485.8h4.6v4.6h-4.6zM497.0 486.2h4.6v4.6h-4.6zM497.6 486.5h4.6v4.6h-4.6zM498.1 484.9h4.6v4.6h-4.6zM498.7 486.3h4.6v4.6h-4.6zM499.3 485.9h4.6v4.6h-4.6zM499.8 484.5h4.6v4.6h-4.6zM500.4 486.2h4.6v4.6h-4.6zM500.9 484.7h4.6v4.6h-4.6zM501.5 487.5h4.6v4.6h-4.6zM502.0 485.6h4.6v4.6h-4.6zM502.6 486.7h4.6v4.6h-4.6zM503.1 485.8h4.6v4.6h-4.6zM503.7 485.6h4.6v4.6h-4.6zM504.3 484.5h4.6v4.6h-4.6zM504.8 484.1h4.6v4.6h-4.6zM505.4 487.6h4.6v4.6h-4.6zM505.9 485.8h4.6v4.6h-4.6zM506.5 485.8h4.6v4.6h-4.6zM507.0 485.8h4.6v4.6h-4.6zM507.6 487.1h4.6v4.6h-4.6zM508.1 484.6h4.6v4.6h-4.6zM508.7 484.3h4.6v4.6h-4.6zM509.3 487.1h4.6v4.6h-4.6zM509.8 485.5h4.6v4.6h-4.6zM510.4 486.3h4.6v4.6h-4.6zM510.9 487.1h4.6v4.6h-4.6zM511.5 487.4h4.6v4.6h-4.6zM512.0 487.3h4.6v4.6h-4.6zM512.6 483.7h4.6v4.6h-4.6zM513.1 485.2h4.6v4.6h-4.6zM513.7 487.2h4.6v4.6h-4.6zM514.3 487.1h4.6v4.6h-4.6zM514.8 484.0h4.6v4.6h-4.6zM515.4 484.2h4.6v4.6h-4.6zM515.9 484.6h4.6v4.6h-4.6zM516.5 484.0h4.6v4.6h-4.6zM517.0 485.1h4.6v4.6h-4.6zM517.6 487.0h4.6v4.6h-4.6zM518.1 485.8h4.6v4.6h-4.6zM518.7 485.5h4.6v4.6h-4.6zM519.3 483.9h4.6v4.6h-4.6zM519.8 485.2h4.6v4.6h-4.6zM520.4 487.9h4.6v4.6h-4.6zM520.9 486.6h4.6v4.6h-4.6zM521.5 485.5h4.6v4.6h-4.6zM522.0 485.6h4.6v4.6h-4.6zM522.6 487.0h4.6v4.6h-4.6zM523.1 486.8h4.6v4.6h-4.6zM523.7 484.2h4.6v4.6h-4.6zM524.3 486.5h4.6v4.6h-4.6zM524.8 485.1h4.6v4.6h-4.6zM525.4 485.8h4.6v4.6h-4.6zM525.9 484.5h4.6v4.6h-4.6zM526.5 485.1h4.6v4.6h-4.6zM527.0 485.0h4.6v4.6h-4.6zM527.6 485.2h4.6v4.6h-4.6zM528.1 483.6h4.6v4.6h-4.6zM528.7 484.4h4.6v4.6h-4.6zM529.3 486.0h4.6v4.6h-4.6zM529.8 483.8h4.6v4.6h-4.6zM530.4 484.3h4.6v4.6h-4.6zM530.9 486.7h4.6v4.6h-4.6zM531.5 484.7h4.6v4.6h-4.6zM532.0 484.9h4.6v4.6h-4.6zM532.6 484.6h4.6v4.6h-4.6zM533.1 487.2h4.6v4.6h-4.6zM533.7 483.9h4.6v4.6h-4.6zM534.3 486.3h4.6v4.6h-4.6zM534.8 487.3h4.6v4.6h-4.6zM535.4 484.4h4.6v4.6h-4.6zM535.9 485.4h4.6v4.6h-4.6zM536.5 487.0h4.6v4.6h-4.6zM537.0 486.2h4.6v4.6h-4.6zM537.6 485.1h4.6v4.6h-4.6zM538.1 483.7h4.6v4.6h-4.6z" fill="#0000ff"/>
<path d="M131.6 16.5 V553.5 M130.5 536.9 H542.5" stroke="#000" stroke-width="2.2" fill="none"/>
<line x1="117.3" x2="131.6" y1="17.6" y2="17.6" stroke="#000" stroke-width="2.2" fill="none"/>
<line x1="117.3" x2="131.6" y1="126.9" y2="126.9" stroke="#000" stroke-width="2.2" fill="none"/>
<line x1="117.3" x2="131.6" y1="236.2" y2="236.2" stroke="#000" stroke-width="2.2" fill="none"/>
<line x1="117.3" x2="131.6" y1="345.4" y2="345.4" stroke="#000" stroke-width="2.2" fill="none"/>
<line x1="117.3" x2="131.6" y1="454.7" y2="454.7" stroke="#000" stroke-width="2.2" fill="none"/>
<line x1="211.5" x2="211.5" y1="536.9" y2="551.7" stroke="#000" stroke-width="2.2" fill="none"/>
<line x1="293.9" x2="293.9" y1="536.9" y2="551.7" stroke="#000" stroke-width="2.2" fill="none"/>
<line x1="376.1" x2="376.1" y1="536.9" y2="551.7" stroke="#000" stroke-width="2.2" fill="none"/>
<line x1="458.8" x2="458.8" y1="536.9" y2="551.7" stroke="#000" stroke-width="2.2" fill="none"/>
<line x1="539.2" x2="539.2" y1="536.9" y2="551.7" stroke="#000" stroke-width="2.2" fill="none"/>
<text transform="translate(110.5,30.6) scale(0.975,1)" font-size="38.5" text-anchor="end" fill="#2c2c2c">1.6</text>
<text transform="translate(110.5,139.9) scale(0.975,1)" font-size="38.5" text-anchor="end" fill="#2c2c2c">1.4</text>
<text transform="translate(110.5,249.2) scale(0.975,1)" font-size="38.5" text-anchor="end" fill="#2c2c2c">1.2</text>
<text transform="translate(110.5,358.4) scale(0.975,1)" font-size="38.5" text-anchor="end" fill="#2c2c2c">1.0</text>
<text transform="translate(110.5,467.7) scale(0.975,1)" font-size="38.5" text-anchor="end" fill="#2c2c2c">0.8</text>
<text transform="translate(129.7,592.8) scale(0.95,1)" font-size="39" text-anchor="middle" fill="#2c2c2c">0</text>
<text transform="translate(211.2,592.8) scale(0.95,1)" font-size="39" text-anchor="middle" fill="#2c2c2c">2</text>
<text transform="translate(293.6,592.8) scale(0.95,1)" font-size="39" text-anchor="middle" fill="#2c2c2c">4</text>
<text transform="translate(375.0,592.8) scale(0.95,1)" font-size="39" text-anchor="middle" fill="#2c2c2c">6</text>
<text transform="translate(458.0,592.8) scale(0.95,1)" font-size="39" text-anchor="middle" fill="#2c2c2c">8</text>
<text transform="translate(538.6,592.8) scale(0.95,1)" font-size="39" text-anchor="middle" fill="#2c2c2c">10</text>
<text transform="translate(235.54,647.60) scale(0.9597,1)" font-size="44.5" fill="#2c2c2c" >Time (min)</text>
<text transform="translate(34.70,407.23) rotate(-90) scale(0.9136,1)" font-size="46" fill="#2c2c2c" >Ratio 340/380</text>
<text transform="translate(152.56,40.50) scale(0.9694,1)" font-size="39.5" fill="#2c2c2c" >CF</text>
<text transform="translate(214.00,84.50) scale(0.9756,1)" font-size="39.5" fill="#2c2c2c" >ATP</text>
<line x1="225" x2="531" y1="32.5" y2="32.5" stroke="#000" stroke-width="4.2"/>
<line x1="296" x2="453" y1="62" y2="62" stroke="#000" stroke-width="4.2"/>
<path d="M901.7 41.1 V595" stroke="#000" stroke-width="2.2" fill="none"/>
<line x1="886.5" x2="901.7" y1="561.4" y2="561.4" stroke="#000" stroke-width="2.2" fill="none"/>
<text transform="translate(831.14,570.20) scale(1.0894,1)" font-size="32.5" fill="#2c2c2c" >0.0</text>
<line x1="886.5" x2="901.7" y1="431.3" y2="431.3" stroke="#000" stroke-width="2.2" fill="none"/>
<text transform="translate(831.13,440.10) scale(1.0959,1)" font-size="32.5" fill="#2c2c2c" >0.2</text>
<line x1="886.5" x2="901.7" y1="302.3" y2="302.3" stroke="#000" stroke-width="2.2" fill="none"/>
<text transform="translate(831.15,311.10) scale(1.0767,1)" font-size="32.5" fill="#2c2c2c" >0.4</text>
<line x1="886.5" x2="901.7" y1="172.8" y2="172.8" stroke="#000" stroke-width="2.2" fill="none"/>
<text transform="translate(831.14,181.60) scale(1.0894,1)" font-size="32.5" fill="#2c2c2c" >0.6</text>
<line x1="886.5" x2="901.7" y1="42.2" y2="42.2" stroke="#000" stroke-width="2.2" fill="none"/>
<text transform="translate(831.14,51.00) scale(1.0894,1)" font-size="32.5" fill="#2c2c2c" >0.8</text>
<rect x="926" y="161" width="92.3" height="400.4" fill="none" stroke="#000" stroke-width="2.2"/>
<path d="M972.6 161 V139 M948 139 H996.5" stroke="#2a2a2a" stroke-width="2.6" fill="none"/>
<rect x="1040.3" y="355.5" width="92.2" height="205.9" fill="none" stroke="#0000ff" stroke-width="2"/>
<path d="M1086.3 355.5 V322.5 M1062.5 322.5 H1110" stroke="#2222ff" stroke-width="2.6" fill="none"/>
<rect x="1154.8" y="175.3" width="91.3" height="386.1" fill="none" stroke="#ff0000" stroke-width="2"/>
<path d="M1200 175 V156.3 M1175.5 156.3 H1224" stroke="#ff3030" stroke-width="2.8" fill="none"/>
<text transform="translate(939.26,93.00) scale(1.0151,1)" font-size="39.5" fill="#2c2c2c" >n=6</text>
<text transform="translate(1163.55,92.40) scale(1.0199,1)" font-size="39.5" fill="#ff4040" >n=6</text>
<text transform="translate(1167.43,139.70) scale(1.1411,1)" font-size="34" fill="#ff5050" >n.s.</text>
<text transform="translate(1054.09,261.40) scale(1.0040,1)" font-size="39.5" fill="#2a2aff" >n=8</text>
<text x="1089.7" y="314" font-size="40" text-anchor="middle" fill="#2020ff" letter-spacing="5.2">***</text>
<text transform="translate(984.30,535.05) rotate(-90) scale(0.9580,1)" font-size="41.5" fill="#000" stroke="#000" stroke-width="0.25">Normoxia</text>
<text transform="translate(1095.00,533.31) rotate(-90) scale(0.9456,1)" font-size="41.5" fill="#0000ff" stroke="#0000ff" stroke-width="0.2">Hypoxia</text>
<text transform="translate(1208.30,536.43) rotate(-90) scale(0.9638,1)" font-size="41" fill="#ff0000" stroke="#ff0000" stroke-width="0.2">Hypoxia +</text>
<text transform="translate(1189.30,329.80) rotate(-90) scale(0.9531,1)" font-size="41" fill="#ff0000" stroke="#ff0000" stroke-width="0.2">HO-1</text>
<text transform="translate(1238.30,349.35) rotate(-90) scale(0.9626,1)" font-size="41" fill="#ff0000" stroke="#ff0000" stroke-width="0.2">inhibitor</text>
<text transform="translate(756.20,522.50) rotate(-90) scale(1.0269,1)" font-size="38.5" fill="#2c2c2c" >ATP-induced</text>
<text transform="translate(756.20,285.42) rotate(-90) scale(0.9101,1)" font-size="38.5" fill="#2c2c2c" >Ca</text>
<text transform="translate(738.60,237.39) rotate(-90) scale(1.2696,1)" font-size="25" fill="#2c2c2c" >2</text>
<text transform="translate(738.60,217.44) rotate(-90) scale(0.9959,1)" font-size="25" fill="#2c2c2c" >+</text>
<text transform="translate(756.20,195.88) rotate(-90) scale(1.0321,1)" font-size="38.5" fill="#2c2c2c" >peak</text>
<text transform="translate(802.50,443.29) rotate(-90) scale(0.9918,1)" font-size="38.5" fill="#2c2c2c" >amplitude</text>
<text transform="translate(802.50,266.03) rotate(-90) scale(1.0785,1)" font-size="38.5" fill="#2c2c2c" >(rU)</text>
</svg>
</body></html>
